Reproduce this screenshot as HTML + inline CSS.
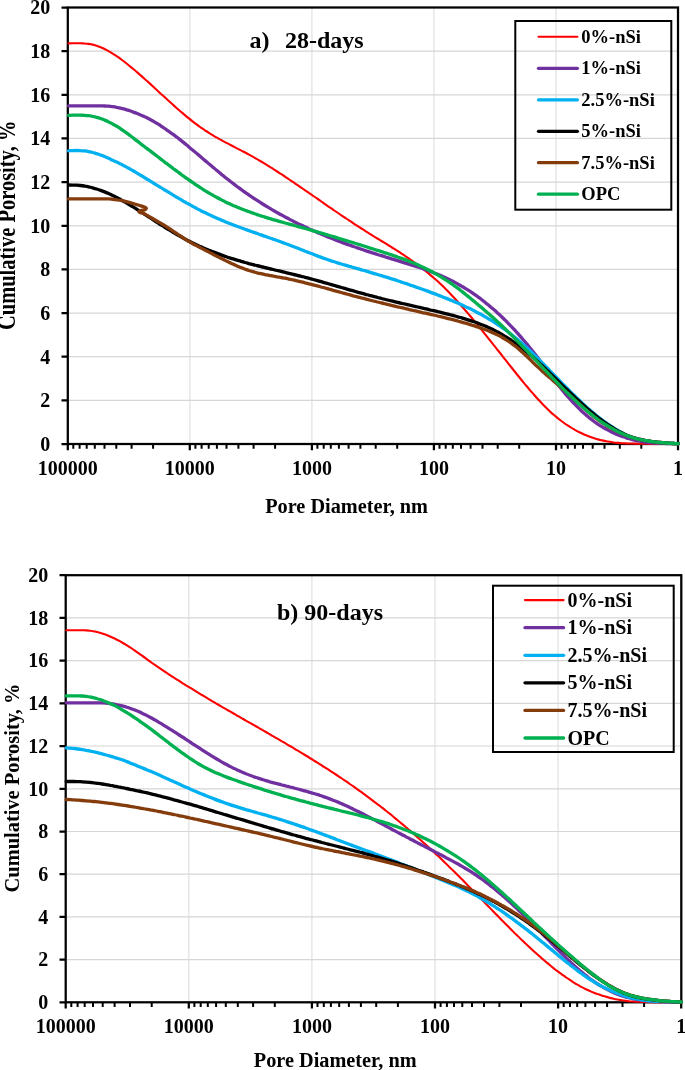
<!DOCTYPE html>
<html><head><meta charset="utf-8"><title>Cumulative porosity</title>
<style>
html,body{margin:0;padding:0;background:#fff}
svg{display:block;will-change:transform;opacity:.999}
text{font-family:"Liberation Serif",serif;font-weight:bold;fill:#000}
.t20{font-size:20px}.t24{font-size:24px}
</style></head><body>
<svg width="685" height="1070" viewBox="0 0 685 1070">
<rect width="685" height="1070" fill="#fff"/>
<g id="chart-a">
<path d="M189.8 7.5V444.0M311.9 7.5V444.0M433.9 7.5V444.0M556.0 7.5V444.0" stroke="#e8e8e8" stroke-width="1.6" fill="none"/>
<path d="M67.8 400.4H678.0M67.8 356.7H678.0M67.8 313.1H678.0M67.8 269.4H678.0M67.8 225.8H678.0M67.8 182.1H678.0M67.8 138.4H678.0M67.8 94.8H678.0M67.8 51.2H678.0" stroke="#d6d6d6" stroke-width="1.2" fill="none"/>
<rect x="67.8" y="7.5" width="610.2" height="436.5" fill="none" stroke="#000" stroke-width="2.25"/>
<path d="M61.5 444.0H67.8M61.5 400.4H67.8M61.5 356.7H67.8M61.5 313.1H67.8M61.5 269.4H67.8M61.5 225.8H67.8M61.5 182.1H67.8M61.5 138.4H67.8M61.5 94.8H67.8M61.5 51.2H67.8M61.5 7.5H67.8M67.8 444.0V450.3M189.8 444.0V450.3M311.9 444.0V450.3M433.9 444.0V450.3M556.0 444.0V450.3M678.0 444.0V450.3" stroke="#000" stroke-width="2.25" fill="none"/>
<path d="M153.1 444.0V448.7M131.6 444.0V448.7M116.3 444.0V448.7M104.5 444.0V448.7M94.8 444.0V448.7M86.7 444.0V448.7M79.6 444.0V448.7M73.3 444.0V448.7M275.1 444.0V448.7M253.6 444.0V448.7M238.4 444.0V448.7M226.5 444.0V448.7M216.9 444.0V448.7M208.7 444.0V448.7M201.6 444.0V448.7M195.4 444.0V448.7M397.2 444.0V448.7M375.7 444.0V448.7M360.4 444.0V448.7M348.6 444.0V448.7M338.9 444.0V448.7M330.8 444.0V448.7M323.7 444.0V448.7M317.4 444.0V448.7M519.2 444.0V448.7M497.7 444.0V448.7M482.5 444.0V448.7M470.6 444.0V448.7M461.0 444.0V448.7M452.8 444.0V448.7M445.7 444.0V448.7M439.5 444.0V448.7M641.3 444.0V448.7M619.8 444.0V448.7M604.5 444.0V448.7M592.7 444.0V448.7M583.0 444.0V448.7M574.9 444.0V448.7M567.8 444.0V448.7M561.5 444.0V448.7" stroke="#000" stroke-width="2" fill="none"/>
<path d="M68.5 43.4C69.2 43.4 71.2 43.4 72.5 43.3C73.9 43.3 75.2 43.3 76.5 43.3C77.9 43.3 79.2 43.3 80.5 43.3C81.9 43.4 83.2 43.4 84.5 43.5C85.9 43.6 87.2 43.7 88.6 43.9C89.9 44.1 91.2 44.3 92.6 44.6C93.9 45.0 95.2 45.3 96.6 45.7C97.9 46.2 99.3 46.7 100.6 47.2C101.9 47.7 103.3 48.4 104.6 49.0C106.0 49.7 107.3 50.4 108.6 51.2C110.0 52.0 111.3 52.8 112.6 53.6C114.0 54.5 115.3 55.3 116.7 56.2C118.0 57.1 119.3 58.1 120.7 59.0C122.0 60.0 123.3 61.0 124.7 62.0C126.0 63.0 127.4 64.1 128.7 65.2C130.0 66.3 131.4 67.4 132.7 68.5C134.0 69.6 135.4 70.7 136.7 71.9C138.1 73.0 139.4 74.2 140.7 75.4C142.1 76.6 143.4 77.8 144.7 79.0C146.1 80.2 147.4 81.4 148.8 82.6C150.1 83.9 151.4 85.1 152.8 86.3C154.1 87.5 155.4 88.8 156.8 90.0C158.1 91.2 159.5 92.4 160.8 93.7C162.1 94.9 163.5 96.1 164.8 97.3C166.1 98.6 167.5 99.8 168.8 101.0C170.2 102.2 171.5 103.4 172.8 104.6C174.2 105.8 175.5 107.0 176.8 108.2C178.2 109.4 179.5 110.5 180.9 111.7C182.2 112.8 183.5 114.0 184.9 115.1C186.2 116.2 187.5 117.3 188.9 118.4C190.2 119.5 191.5 120.6 192.9 121.6C194.2 122.6 195.6 123.7 196.9 124.6C198.2 125.6 199.6 126.6 200.9 127.6C202.2 128.5 203.6 129.4 204.9 130.3C206.3 131.2 207.6 132.0 208.9 132.9C210.3 133.7 211.6 134.5 213.0 135.3C214.3 136.1 215.6 136.9 217.0 137.7C218.3 138.4 219.6 139.2 221.0 139.9C222.3 140.7 223.7 141.4 225.0 142.1C226.3 142.8 227.7 143.5 229.0 144.2C230.3 144.9 231.7 145.6 233.0 146.3C234.4 147.0 235.7 147.7 237.0 148.4C238.4 149.1 239.7 149.7 241.0 150.4C242.4 151.1 243.7 151.8 245.1 152.5C246.4 153.2 247.7 153.9 249.1 154.7C250.4 155.4 251.7 156.1 253.1 156.9C254.4 157.6 255.7 158.4 257.1 159.2C258.4 159.9 259.8 160.7 261.1 161.5C262.4 162.3 263.8 163.1 265.1 163.9C266.4 164.7 267.8 165.6 269.1 166.4C270.5 167.2 271.8 168.1 273.1 168.9C274.5 169.8 275.8 170.7 277.1 171.5C278.5 172.4 279.8 173.3 281.2 174.2C282.5 175.0 283.8 175.9 285.2 176.8C286.5 177.7 287.9 178.6 289.2 179.5C290.5 180.4 291.9 181.3 293.2 182.2C294.5 183.1 295.9 184.0 297.2 184.9C298.5 185.8 299.9 186.7 301.2 187.7C302.6 188.6 303.9 189.5 305.2 190.4C306.6 191.3 307.9 192.3 309.2 193.2C310.6 194.1 311.9 195.0 313.3 196.0C314.6 196.9 315.9 197.8 317.3 198.7C318.6 199.7 320.0 200.6 321.3 201.5C322.6 202.4 324.0 203.4 325.3 204.3C326.6 205.2 328.0 206.1 329.3 207.1C330.6 208.0 332.0 208.9 333.3 209.8C334.7 210.7 336.0 211.6 337.3 212.5C338.7 213.5 340.0 214.4 341.4 215.3C342.7 216.2 344.0 217.1 345.4 218.0C346.7 218.9 348.0 219.8 349.4 220.7C350.7 221.5 352.0 222.4 353.4 223.3C354.7 224.2 356.1 225.1 357.4 225.9C358.7 226.8 360.1 227.7 361.4 228.5C362.8 229.4 364.1 230.2 365.4 231.1C366.8 231.9 368.1 232.7 369.4 233.6C370.8 234.4 372.1 235.2 373.4 236.1C374.8 236.9 376.1 237.7 377.5 238.5C378.8 239.3 380.1 240.2 381.5 241.0C382.8 241.8 384.2 242.6 385.5 243.4C386.8 244.3 388.2 245.1 389.5 245.9C390.8 246.8 392.2 247.6 393.5 248.4C394.9 249.3 396.2 250.1 397.5 251.0C398.9 251.9 400.2 252.7 401.5 253.6C402.9 254.5 404.2 255.4 405.6 256.3C406.9 257.2 408.2 258.1 409.6 259.0C410.9 259.9 412.2 260.9 413.6 261.8C414.9 262.8 416.2 263.8 417.6 264.8C418.9 265.8 420.3 266.8 421.6 267.8C422.9 268.9 424.3 269.9 425.6 271.0C426.9 272.1 428.3 273.2 429.6 274.3C431.0 275.4 432.3 276.5 433.6 277.7C435.0 278.9 436.3 280.1 437.7 281.3C439.0 282.5 440.3 283.8 441.7 285.1C443.0 286.4 444.3 287.7 445.7 289.0C447.0 290.3 448.4 291.7 449.7 293.1C451.0 294.5 452.4 295.9 453.7 297.3C455.0 298.8 456.4 300.2 457.7 301.7C459.1 303.2 460.4 304.7 461.7 306.2C463.1 307.7 464.4 309.2 465.7 310.8C467.1 312.3 468.4 313.9 469.8 315.5C471.1 317.1 472.4 318.7 473.8 320.3C475.1 321.9 476.4 323.5 477.8 325.2C479.1 326.8 480.5 328.4 481.8 330.1C483.1 331.8 484.5 333.4 485.8 335.1C487.1 336.8 488.5 338.4 489.8 340.1C491.1 341.8 492.5 343.5 493.8 345.2C495.2 346.9 496.5 348.6 497.8 350.3C499.2 351.9 500.5 353.6 501.9 355.3C503.2 357.0 504.5 358.7 505.9 360.4C507.2 362.1 508.5 363.8 509.9 365.5C511.2 367.2 512.6 368.9 513.9 370.5C515.2 372.2 516.6 373.9 517.9 375.5C519.2 377.2 520.6 378.8 521.9 380.5C523.2 382.1 524.6 383.7 525.9 385.3C527.3 386.9 528.6 388.5 529.9 390.1C531.3 391.6 532.6 393.2 534.0 394.7C535.3 396.2 536.6 397.7 538.0 399.2C539.3 400.6 540.6 402.1 542.0 403.5C543.3 404.9 544.6 406.2 546.0 407.6C547.3 408.9 548.7 410.2 550.0 411.4C551.3 412.7 552.7 413.9 554.0 415.0C555.4 416.2 556.7 417.3 558.0 418.4C559.4 419.5 560.7 420.5 562.0 421.5C563.4 422.5 564.7 423.5 566.0 424.4C567.4 425.3 568.7 426.2 570.1 427.0C571.4 427.9 572.7 428.7 574.1 429.4C575.4 430.2 576.8 430.9 578.1 431.6C579.4 432.3 580.8 432.9 582.1 433.5C583.4 434.2 584.8 434.7 586.1 435.3C587.5 435.8 588.8 436.4 590.1 436.8C591.5 437.3 592.8 437.8 594.1 438.2C595.5 438.6 596.8 439.0 598.1 439.4C599.5 439.7 600.8 440.1 602.2 440.4C603.5 440.7 604.8 441.0 606.2 441.2C607.5 441.5 608.9 441.7 610.2 441.9C611.5 442.1 612.9 442.3 614.2 442.5C615.5 442.6 616.9 442.8 618.2 442.9C619.5 443.0 620.9 443.1 622.2 443.2C623.6 443.3 624.9 443.3 626.2 443.4C627.6 443.4 628.9 443.5 630.2 443.5C631.6 443.5 632.9 443.6 634.3 443.6C635.6 443.6 636.9 443.7 638.3 443.7C639.6 443.7 641.0 443.7 642.3 443.7C643.6 443.8 645.0 443.8 646.3 443.8C647.6 443.8 649.0 443.8 650.3 443.9C651.6 443.9 653.0 443.9 654.3 443.9C655.7 443.9 657.0 443.9 658.3 443.9C659.7 443.9 661.0 443.9 662.4 443.9C663.7 444.0 665.0 444.0 666.4 444.0C667.7 444.0 669.0 444.0 670.4 444.0C671.7 444.0 673.1 444.0 674.4 444.0C675.7 444.0 677.7 444.0 678.4 444.0" fill="none" stroke="#ff0000" stroke-width="2.1" stroke-linecap="round" stroke-linejoin="round"/>
<path d="M68.5 105.8C69.2 105.8 71.2 105.8 72.5 105.8C73.9 105.8 75.2 105.8 76.5 105.8C77.9 105.8 79.2 105.8 80.5 105.8C81.9 105.8 83.2 105.8 84.5 105.8C85.9 105.8 87.2 105.8 88.6 105.8C89.9 105.8 91.2 105.8 92.6 105.8C93.9 105.8 95.2 105.8 96.6 105.8C97.9 105.9 99.3 105.9 100.6 105.9C101.9 105.9 103.3 106.0 104.6 106.0C106.0 106.1 107.3 106.1 108.6 106.2C110.0 106.3 111.3 106.5 112.6 106.7C114.0 106.9 115.3 107.1 116.7 107.4C118.0 107.6 119.3 107.9 120.7 108.2C122.0 108.5 123.3 108.9 124.7 109.2C126.0 109.6 127.4 110.0 128.7 110.4C130.0 110.8 131.4 111.3 132.7 111.8C134.0 112.2 135.4 112.8 136.7 113.3C138.1 113.8 139.4 114.4 140.7 115.0C142.1 115.6 143.4 116.2 144.7 116.8C146.1 117.4 147.4 118.1 148.8 118.8C150.1 119.5 151.4 120.2 152.8 120.9C154.1 121.7 155.4 122.5 156.8 123.3C158.1 124.1 159.5 124.9 160.8 125.8C162.1 126.7 163.5 127.5 164.8 128.5C166.1 129.4 167.5 130.3 168.8 131.3C170.2 132.2 171.5 133.2 172.8 134.2C174.2 135.2 175.5 136.2 176.8 137.2C178.2 138.2 179.5 139.3 180.9 140.4C182.2 141.4 183.5 142.5 184.9 143.6C186.2 144.7 187.5 145.7 188.9 146.9C190.2 148.0 191.5 149.1 192.9 150.2C194.2 151.3 195.6 152.4 196.9 153.6C198.2 154.7 199.6 155.8 200.9 157.0C202.2 158.1 203.6 159.3 204.9 160.4C206.3 161.5 207.6 162.7 208.9 163.8C210.3 164.9 211.6 166.1 213.0 167.2C214.3 168.3 215.6 169.5 217.0 170.6C218.3 171.7 219.6 172.8 221.0 173.9C222.3 175.0 223.7 176.1 225.0 177.2C226.3 178.2 227.7 179.3 229.0 180.3C230.3 181.4 231.7 182.4 233.0 183.4C234.4 184.5 235.7 185.5 237.0 186.5C238.4 187.5 239.7 188.4 241.0 189.4C242.4 190.4 243.7 191.3 245.1 192.3C246.4 193.2 247.7 194.1 249.1 195.1C250.4 196.0 251.7 196.9 253.1 197.8C254.4 198.7 255.7 199.5 257.1 200.4C258.4 201.3 259.8 202.1 261.1 203.0C262.4 203.8 263.8 204.7 265.1 205.5C266.4 206.3 267.8 207.1 269.1 207.9C270.5 208.7 271.8 209.5 273.1 210.3C274.5 211.0 275.8 211.8 277.1 212.6C278.5 213.3 279.8 214.1 281.2 214.8C282.5 215.5 283.8 216.3 285.2 217.0C286.5 217.7 287.9 218.4 289.2 219.1C290.5 219.8 291.9 220.5 293.2 221.2C294.5 221.8 295.9 222.5 297.2 223.2C298.5 223.8 299.9 224.5 301.2 225.1C302.6 225.8 303.9 226.4 305.2 227.0C306.6 227.7 307.9 228.3 309.2 228.9C310.6 229.5 311.9 230.1 313.3 230.7C314.6 231.3 315.9 231.9 317.3 232.4C318.6 233.0 320.0 233.6 321.3 234.2C322.6 234.7 324.0 235.3 325.3 235.8C326.6 236.4 328.0 236.9 329.3 237.5C330.6 238.0 332.0 238.5 333.3 239.0C334.7 239.6 336.0 240.1 337.3 240.6C338.7 241.1 340.0 241.6 341.4 242.1C342.7 242.6 344.0 243.1 345.4 243.6C346.7 244.1 348.0 244.6 349.4 245.0C350.7 245.5 352.0 246.0 353.4 246.5C354.7 246.9 356.1 247.4 357.4 247.9C358.7 248.3 360.1 248.8 361.4 249.2C362.8 249.7 364.1 250.1 365.4 250.6C366.8 251.0 368.1 251.4 369.4 251.9C370.8 252.3 372.1 252.7 373.4 253.2C374.8 253.6 376.1 254.0 377.5 254.5C378.8 254.9 380.1 255.3 381.5 255.7C382.8 256.1 384.2 256.5 385.5 257.0C386.8 257.4 388.2 257.8 389.5 258.2C390.8 258.6 392.2 259.0 393.5 259.4C394.9 259.8 396.2 260.2 397.5 260.6C398.9 261.0 400.2 261.4 401.5 261.8C402.9 262.2 404.2 262.6 405.6 263.1C406.9 263.5 408.2 263.9 409.6 264.3C410.9 264.7 412.2 265.1 413.6 265.6C414.9 266.0 416.2 266.4 417.6 266.9C418.9 267.3 420.3 267.8 421.6 268.2C422.9 268.7 424.3 269.2 425.6 269.7C426.9 270.1 428.3 270.6 429.6 271.1C431.0 271.6 432.3 272.1 433.6 272.7C435.0 273.2 436.3 273.7 437.7 274.3C439.0 274.9 440.3 275.4 441.7 276.0C443.0 276.6 444.3 277.2 445.7 277.8C447.0 278.4 448.4 279.1 449.7 279.7C451.0 280.4 452.4 281.1 453.7 281.8C455.0 282.5 456.4 283.2 457.7 283.9C459.1 284.6 460.4 285.4 461.7 286.2C463.1 287.0 464.4 287.8 465.7 288.6C467.1 289.4 468.4 290.3 469.8 291.2C471.1 292.0 472.4 292.9 473.8 293.9C475.1 294.8 476.4 295.8 477.8 296.7C479.1 297.7 480.5 298.7 481.8 299.7C483.1 300.8 484.5 301.8 485.8 302.9C487.1 304.0 488.5 305.1 489.8 306.2C491.1 307.3 492.5 308.5 493.8 309.6C495.2 310.8 496.5 312.0 497.8 313.3C499.2 314.5 500.5 315.7 501.9 317.0C503.2 318.3 504.5 319.6 505.9 320.9C507.2 322.3 508.5 323.6 509.9 325.0C511.2 326.4 512.6 327.8 513.9 329.2C515.2 330.7 516.6 332.2 517.9 333.6C519.2 335.1 520.6 336.7 521.9 338.2C523.2 339.7 524.6 341.3 525.9 342.9C527.3 344.5 528.6 346.1 529.9 347.8C531.3 349.4 532.6 351.1 534.0 352.8C535.3 354.5 536.6 356.3 538.0 358.0C539.3 359.8 540.6 361.6 542.0 363.3C543.3 365.1 544.6 366.9 546.0 368.7C547.3 370.5 548.7 372.3 550.0 374.1C551.3 375.9 552.7 377.7 554.0 379.4C555.4 381.2 556.7 382.9 558.0 384.6C559.4 386.4 560.7 388.1 562.0 389.7C563.4 391.4 564.7 393.0 566.0 394.6C567.4 396.1 568.7 397.7 570.1 399.2C571.4 400.7 572.7 402.1 574.1 403.5C575.4 404.9 576.8 406.3 578.1 407.6C579.4 408.9 580.8 410.2 582.1 411.5C583.4 412.7 584.8 413.9 586.1 415.1C587.5 416.2 588.8 417.3 590.1 418.4C591.5 419.5 592.8 420.5 594.1 421.5C595.5 422.5 596.8 423.4 598.1 424.3C599.5 425.2 600.8 426.1 602.2 426.9C603.5 427.7 604.8 428.5 606.2 429.2C607.5 430.0 608.9 430.7 610.2 431.3C611.5 432.0 612.9 432.6 614.2 433.2C615.5 433.8 616.9 434.4 618.2 434.9C619.5 435.5 620.9 436.0 622.2 436.4C623.6 436.9 624.9 437.4 626.2 437.8C627.6 438.2 628.9 438.6 630.2 439.0C631.6 439.4 632.9 439.7 634.3 440.1C635.6 440.4 636.9 440.7 638.3 441.0C639.6 441.3 641.0 441.5 642.3 441.7C643.6 442.0 645.0 442.1 646.3 442.3C647.6 442.4 649.0 442.6 650.3 442.7C651.6 442.8 653.0 442.9 654.3 443.0C655.7 443.1 657.0 443.1 658.3 443.2C659.7 443.3 661.0 443.3 662.4 443.4C663.7 443.4 665.0 443.5 666.4 443.5C667.7 443.6 669.0 443.6 670.4 443.7C671.7 443.7 673.1 443.7 674.4 443.7C675.7 443.8 677.7 443.8 678.4 443.8" fill="none" stroke="#7030a0" stroke-width="3.3" stroke-linecap="round" stroke-linejoin="round"/>
<path d="M68.5 150.8C69.2 150.8 71.2 150.6 72.5 150.6C73.9 150.5 75.2 150.5 76.5 150.5C77.9 150.5 79.2 150.5 80.5 150.6C81.9 150.6 83.2 150.8 84.5 150.9C85.9 151.1 87.2 151.3 88.6 151.6C89.9 151.9 91.2 152.1 92.6 152.5C93.9 152.8 95.2 153.2 96.6 153.6C97.9 154.0 99.3 154.5 100.6 155.0C101.9 155.5 103.3 156.0 104.6 156.6C106.0 157.2 107.3 157.7 108.6 158.3C110.0 158.9 111.3 159.6 112.6 160.2C114.0 160.8 115.3 161.5 116.7 162.1C118.0 162.7 119.3 163.4 120.7 164.1C122.0 164.7 123.3 165.4 124.7 166.1C126.0 166.8 127.4 167.5 128.7 168.3C130.0 169.0 131.4 169.8 132.7 170.5C134.0 171.3 135.4 172.1 136.7 172.9C138.1 173.7 139.4 174.5 140.7 175.3C142.1 176.1 143.4 176.9 144.7 177.7C146.1 178.5 147.4 179.3 148.8 180.2C150.1 181.0 151.4 181.8 152.8 182.6C154.1 183.4 155.4 184.3 156.8 185.1C158.1 185.9 159.5 186.7 160.8 187.5C162.1 188.4 163.5 189.2 164.8 190.0C166.1 190.8 167.5 191.6 168.8 192.4C170.2 193.3 171.5 194.1 172.8 194.9C174.2 195.7 175.5 196.5 176.8 197.3C178.2 198.1 179.5 198.9 180.9 199.6C182.2 200.4 183.5 201.2 184.9 202.0C186.2 202.7 187.5 203.5 188.9 204.2C190.2 205.0 191.5 205.7 192.9 206.4C194.2 207.2 195.6 207.9 196.9 208.6C198.2 209.3 199.6 210.0 200.9 210.7C202.2 211.3 203.6 212.0 204.9 212.6C206.3 213.3 207.6 213.9 208.9 214.6C210.3 215.2 211.6 215.8 213.0 216.4C214.3 217.0 215.6 217.6 217.0 218.2C218.3 218.8 219.6 219.3 221.0 219.9C222.3 220.5 223.7 221.0 225.0 221.6C226.3 222.1 227.7 222.6 229.0 223.2C230.3 223.7 231.7 224.2 233.0 224.7C234.4 225.3 235.7 225.8 237.0 226.3C238.4 226.8 239.7 227.3 241.0 227.8C242.4 228.3 243.7 228.7 245.1 229.2C246.4 229.7 247.7 230.2 249.1 230.7C250.4 231.1 251.7 231.6 253.1 232.1C254.4 232.6 255.7 233.0 257.1 233.5C258.4 234.0 259.8 234.4 261.1 234.9C262.4 235.4 263.8 235.8 265.1 236.3C266.4 236.8 267.8 237.2 269.1 237.7C270.5 238.2 271.8 238.6 273.1 239.1C274.5 239.6 275.8 240.1 277.1 240.5C278.5 241.0 279.8 241.5 281.2 242.0C282.5 242.5 283.8 243.0 285.2 243.5C286.5 243.9 287.9 244.4 289.2 245.0C290.5 245.5 291.9 246.0 293.2 246.5C294.5 247.0 295.9 247.5 297.2 248.0C298.5 248.6 299.9 249.1 301.2 249.6C302.6 250.1 303.9 250.7 305.2 251.2C306.6 251.7 307.9 252.3 309.2 252.8C310.6 253.3 311.9 253.8 313.3 254.3C314.6 254.8 315.9 255.4 317.3 255.9C318.6 256.4 320.0 256.9 321.3 257.4C322.6 257.9 324.0 258.3 325.3 258.8C326.6 259.3 328.0 259.7 329.3 260.2C330.6 260.6 332.0 261.1 333.3 261.5C334.7 261.9 336.0 262.4 337.3 262.8C338.7 263.2 340.0 263.6 341.4 264.0C342.7 264.4 344.0 264.8 345.4 265.2C346.7 265.6 348.0 266.0 349.4 266.4C350.7 266.7 352.0 267.1 353.4 267.5C354.7 267.9 356.1 268.3 357.4 268.6C358.7 269.0 360.1 269.4 361.4 269.8C362.8 270.2 364.1 270.5 365.4 270.9C366.8 271.3 368.1 271.7 369.4 272.1C370.8 272.5 372.1 272.9 373.4 273.3C374.8 273.7 376.1 274.1 377.5 274.5C378.8 274.9 380.1 275.3 381.5 275.7C382.8 276.1 384.2 276.5 385.5 276.9C386.8 277.3 388.2 277.7 389.5 278.2C390.8 278.6 392.2 279.0 393.5 279.4C394.9 279.9 396.2 280.3 397.5 280.7C398.9 281.2 400.2 281.6 401.5 282.1C402.9 282.5 404.2 283.0 405.6 283.4C406.9 283.9 408.2 284.3 409.6 284.8C410.9 285.2 412.2 285.7 413.6 286.2C414.9 286.6 416.2 287.1 417.6 287.6C418.9 288.0 420.3 288.5 421.6 289.0C422.9 289.5 424.3 290.0 425.6 290.4C426.9 290.9 428.3 291.4 429.6 291.9C431.0 292.4 432.3 292.9 433.6 293.4C435.0 293.9 436.3 294.4 437.7 295.0C439.0 295.5 440.3 296.0 441.7 296.5C443.0 297.0 444.3 297.6 445.7 298.1C447.0 298.6 448.4 299.2 449.7 299.7C451.0 300.3 452.4 300.8 453.7 301.4C455.0 301.9 456.4 302.5 457.7 303.1C459.1 303.7 460.4 304.2 461.7 304.8C463.1 305.4 464.4 306.1 465.7 306.7C467.1 307.3 468.4 307.9 469.8 308.6C471.1 309.2 472.4 309.9 473.8 310.6C475.1 311.3 476.4 311.9 477.8 312.7C479.1 313.4 480.5 314.1 481.8 314.8C483.1 315.6 484.5 316.3 485.8 317.1C487.1 317.9 488.5 318.7 489.8 319.5C491.1 320.3 492.5 321.1 493.8 322.0C495.2 322.8 496.5 323.7 497.8 324.6C499.2 325.5 500.5 326.4 501.9 327.4C503.2 328.3 504.5 329.3 505.9 330.2C507.2 331.2 508.5 332.2 509.9 333.3C511.2 334.3 512.6 335.4 513.9 336.5C515.2 337.6 516.6 338.7 517.9 339.8C519.2 341.0 520.6 342.2 521.9 343.3C523.2 344.5 524.6 345.8 525.9 347.0C527.3 348.2 528.6 349.5 529.9 350.7C531.3 352.0 532.6 353.3 534.0 354.6C535.3 355.9 536.6 357.2 538.0 358.6C539.3 359.9 540.6 361.2 542.0 362.6C543.3 363.9 544.6 365.3 546.0 366.6C547.3 368.0 548.7 369.4 550.0 370.8C551.3 372.1 552.7 373.5 554.0 374.9C555.4 376.3 556.7 377.6 558.0 379.0C559.4 380.4 560.7 381.8 562.0 383.1C563.4 384.5 564.7 385.9 566.0 387.2C567.4 388.6 568.7 389.9 570.1 391.3C571.4 392.6 572.7 393.9 574.1 395.2C575.4 396.6 576.8 397.9 578.1 399.1C579.4 400.4 580.8 401.7 582.1 403.0C583.4 404.2 584.8 405.4 586.1 406.7C587.5 407.9 588.8 409.1 590.1 410.2C591.5 411.4 592.8 412.5 594.1 413.6C595.5 414.8 596.8 415.8 598.1 416.9C599.5 418.0 600.8 419.0 602.2 420.0C603.5 421.0 604.8 421.9 606.2 422.9C607.5 423.8 608.9 424.7 610.2 425.6C611.5 426.5 612.9 427.4 614.2 428.3C615.5 429.1 616.9 429.9 618.2 430.7C619.5 431.5 620.9 432.2 622.2 432.9C623.6 433.6 624.9 434.3 626.2 434.9C627.6 435.5 628.9 436.0 630.2 436.5C631.6 437.0 632.9 437.5 634.3 437.9C635.6 438.3 636.9 438.6 638.3 439.0C639.6 439.3 641.0 439.6 642.3 439.9C643.6 440.2 645.0 440.5 646.3 440.7C647.6 440.9 649.0 441.1 650.3 441.3C651.6 441.5 653.0 441.7 654.3 441.9C655.7 442.0 657.0 442.2 658.3 442.3C659.7 442.5 661.0 442.6 662.4 442.7C663.7 442.8 665.0 442.9 666.4 443.0C667.7 443.1 669.0 443.2 670.4 443.2C671.7 443.3 673.1 443.4 674.4 443.4C675.7 443.5 677.7 443.6 678.4 443.6" fill="none" stroke="#00b0f0" stroke-width="3.3" stroke-linecap="round" stroke-linejoin="round"/>
<path d="M68.5 185.0C69.2 185.0 71.2 185.0 72.5 185.1C73.9 185.1 75.2 185.1 76.5 185.2C77.9 185.3 79.2 185.4 80.5 185.5C81.9 185.6 83.2 185.8 84.5 186.0C85.9 186.3 87.2 186.5 88.6 186.8C89.9 187.1 91.2 187.5 92.6 187.8C93.9 188.2 95.2 188.6 96.6 189.0C97.9 189.4 99.3 189.9 100.6 190.4C101.9 190.9 103.3 191.4 104.6 191.9C106.0 192.4 107.3 193.0 108.6 193.6C110.0 194.2 111.3 194.8 112.6 195.5C114.0 196.1 115.3 196.8 116.7 197.5C118.0 198.2 119.3 198.9 120.7 199.6C122.0 200.4 123.3 201.1 124.7 201.9C126.0 202.7 127.4 203.5 128.7 204.3C130.0 205.1 131.4 205.9 132.7 206.7C134.0 207.5 135.4 208.3 136.7 209.2C138.1 210.0 139.4 210.9 140.7 211.7C142.1 212.6 143.4 213.5 144.7 214.4C146.1 215.3 147.4 216.1 148.8 217.0C150.1 217.9 151.4 218.8 152.8 219.6C154.1 220.5 155.4 221.3 156.8 222.2C158.1 223.1 159.5 223.9 160.8 224.8C162.1 225.6 163.5 226.4 164.8 227.3C166.1 228.1 167.5 228.9 168.8 229.7C170.2 230.6 171.5 231.4 172.8 232.2C174.2 233.0 175.5 233.7 176.8 234.5C178.2 235.3 179.5 236.0 180.9 236.8C182.2 237.5 183.5 238.2 184.9 239.0C186.2 239.7 187.5 240.4 188.9 241.0C190.2 241.7 191.5 242.4 192.9 243.1C194.2 243.7 195.6 244.4 196.9 245.0C198.2 245.6 199.6 246.2 200.9 246.8C202.2 247.4 203.6 248.0 204.9 248.6C206.3 249.2 207.6 249.7 208.9 250.3C210.3 250.8 211.6 251.4 213.0 251.9C214.3 252.4 215.6 252.9 217.0 253.4C218.3 253.9 219.6 254.4 221.0 254.9C222.3 255.4 223.7 255.9 225.0 256.3C226.3 256.8 227.7 257.2 229.0 257.7C230.3 258.1 231.7 258.5 233.0 258.9C234.4 259.3 235.7 259.8 237.0 260.2C238.4 260.6 239.7 260.9 241.0 261.3C242.4 261.7 243.7 262.1 245.1 262.5C246.4 262.8 247.7 263.2 249.1 263.6C250.4 263.9 251.7 264.3 253.1 264.6C254.4 265.0 255.7 265.3 257.1 265.6C258.4 266.0 259.8 266.3 261.1 266.6C262.4 267.0 263.8 267.3 265.1 267.6C266.4 268.0 267.8 268.3 269.1 268.6C270.5 268.9 271.8 269.2 273.1 269.5C274.5 269.9 275.8 270.2 277.1 270.5C278.5 270.8 279.8 271.1 281.2 271.4C282.5 271.8 283.8 272.1 285.2 272.4C286.5 272.7 287.9 273.0 289.2 273.4C290.5 273.7 291.9 274.0 293.2 274.3C294.5 274.7 295.9 275.0 297.2 275.3C298.5 275.7 299.9 276.0 301.2 276.3C302.6 276.7 303.9 277.0 305.2 277.4C306.6 277.7 307.9 278.1 309.2 278.4C310.6 278.8 311.9 279.2 313.3 279.5C314.6 279.9 315.9 280.2 317.3 280.6C318.6 281.0 320.0 281.4 321.3 281.7C322.6 282.1 324.0 282.5 325.3 282.9C326.6 283.2 328.0 283.6 329.3 284.0C330.6 284.4 332.0 284.8 333.3 285.2C334.7 285.5 336.0 285.9 337.3 286.3C338.7 286.7 340.0 287.1 341.4 287.5C342.7 287.9 344.0 288.2 345.4 288.6C346.7 289.0 348.0 289.4 349.4 289.8C350.7 290.2 352.0 290.5 353.4 290.9C354.7 291.3 356.1 291.7 357.4 292.1C358.7 292.4 360.1 292.8 361.4 293.2C362.8 293.6 364.1 293.9 365.4 294.3C366.8 294.7 368.1 295.0 369.4 295.4C370.8 295.7 372.1 296.1 373.4 296.4C374.8 296.8 376.1 297.1 377.5 297.5C378.8 297.8 380.1 298.2 381.5 298.5C382.8 298.8 384.2 299.2 385.5 299.5C386.8 299.8 388.2 300.2 389.5 300.5C390.8 300.8 392.2 301.1 393.5 301.4C394.9 301.8 396.2 302.1 397.5 302.4C398.9 302.7 400.2 303.0 401.5 303.3C402.9 303.6 404.2 303.9 405.6 304.2C406.9 304.5 408.2 304.9 409.6 305.2C410.9 305.5 412.2 305.8 413.6 306.1C414.9 306.4 416.2 306.7 417.6 307.0C418.9 307.3 420.3 307.6 421.6 307.9C422.9 308.2 424.3 308.5 425.6 308.8C426.9 309.1 428.3 309.4 429.6 309.8C431.0 310.1 432.3 310.4 433.6 310.7C435.0 311.0 436.3 311.3 437.7 311.7C439.0 312.0 440.3 312.3 441.7 312.6C443.0 313.0 444.3 313.3 445.7 313.6C447.0 314.0 448.4 314.3 449.7 314.7C451.0 315.0 452.4 315.4 453.7 315.7C455.0 316.1 456.4 316.4 457.7 316.8C459.1 317.2 460.4 317.5 461.7 317.9C463.1 318.3 464.4 318.7 465.7 319.1C467.1 319.5 468.4 319.9 469.8 320.4C471.1 320.8 472.4 321.2 473.8 321.7C475.1 322.2 476.4 322.6 477.8 323.1C479.1 323.6 480.5 324.1 481.8 324.7C483.1 325.2 484.5 325.7 485.8 326.3C487.1 326.9 488.5 327.5 489.8 328.1C491.1 328.7 492.5 329.4 493.8 330.0C495.2 330.7 496.5 331.4 497.8 332.1C499.2 332.8 500.5 333.6 501.9 334.3C503.2 335.1 504.5 335.9 505.9 336.8C507.2 337.6 508.5 338.5 509.9 339.4C511.2 340.3 512.6 341.2 513.9 342.1C515.2 343.1 516.6 344.1 517.9 345.1C519.2 346.1 520.6 347.1 521.9 348.1C523.2 349.2 524.6 350.3 525.9 351.4C527.3 352.5 528.6 353.6 529.9 354.7C531.3 355.9 532.6 357.1 534.0 358.2C535.3 359.4 536.6 360.6 538.0 361.8C539.3 363.1 540.6 364.3 542.0 365.5C543.3 366.8 544.6 368.1 546.0 369.3C547.3 370.6 548.7 371.9 550.0 373.2C551.3 374.4 552.7 375.7 554.0 377.0C555.4 378.3 556.7 379.6 558.0 380.9C559.4 382.2 560.7 383.5 562.0 384.9C563.4 386.2 564.7 387.5 566.0 388.8C567.4 390.0 568.7 391.3 570.1 392.6C571.4 393.9 572.7 395.2 574.1 396.5C575.4 397.7 576.8 399.0 578.1 400.2C579.4 401.5 580.8 402.7 582.1 403.9C583.4 405.1 584.8 406.3 586.1 407.5C587.5 408.7 588.8 409.9 590.1 411.0C591.5 412.1 592.8 413.3 594.1 414.3C595.5 415.4 596.8 416.5 598.1 417.6C599.5 418.6 600.8 419.6 602.2 420.6C603.5 421.6 604.8 422.6 606.2 423.5C607.5 424.4 608.9 425.3 610.2 426.2C611.5 427.0 612.9 427.9 614.2 428.7C615.5 429.5 616.9 430.2 618.2 431.0C619.5 431.7 620.9 432.4 622.2 433.1C623.6 433.7 624.9 434.4 626.2 434.9C627.6 435.5 628.9 436.0 630.2 436.5C631.6 437.0 632.9 437.5 634.3 437.9C635.6 438.3 636.9 438.6 638.3 439.0C639.6 439.3 641.0 439.6 642.3 439.9C643.6 440.1 645.0 440.4 646.3 440.6C647.6 440.8 649.0 441.1 650.3 441.3C651.6 441.5 653.0 441.7 654.3 441.8C655.7 442.0 657.0 442.2 658.3 442.3C659.7 442.4 661.0 442.6 662.4 442.7C663.7 442.8 665.0 442.9 666.4 443.0C667.7 443.1 669.0 443.2 670.4 443.3C671.7 443.3 673.1 443.4 674.4 443.5C675.7 443.5 677.7 443.6 678.4 443.6" fill="none" stroke="#000000" stroke-width="3.3" stroke-linecap="round" stroke-linejoin="round"/>
<path d="M68.5 198.9C72.1 198.9 83.3 198.9 90.0 198.9C96.7 198.9 104.6 198.8 108.8 198.9C113.0 199.0 112.6 199.3 115.0 199.6C117.4 199.9 120.8 200.4 123.4 200.9C126.0 201.4 128.3 202.1 130.7 202.8C133.1 203.5 136.8 204.6 138.0 205.0 M130.7 202.8C131.9 203.2 135.8 204.3 138.0 205.0C140.2 205.7 142.4 206.3 143.8 206.8C145.2 207.3 146.0 207.7 146.2 208.2C146.4 208.7 145.9 209.3 145.0 209.7C144.1 210.1 141.5 210.3 140.5 210.7C139.5 211.0 138.8 211.5 138.8 211.8C138.8 212.1 139.7 212.3 140.5 212.6C141.3 212.9 141.8 212.5 143.8 213.5C145.8 214.5 149.1 216.5 152.6 218.5C156.1 220.5 162.9 224.5 165.0 225.7 M152.6 218.5C153.3 218.9 155.3 220.1 156.6 220.9C158.0 221.6 159.3 222.3 160.6 223.1C162.0 223.9 163.3 224.7 164.6 225.5C166.0 226.4 167.3 227.2 168.7 228.1C170.0 229.0 171.3 229.9 172.7 230.8C174.0 231.7 175.3 232.6 176.7 233.5C178.0 234.4 179.4 235.3 180.7 236.2C182.0 237.1 183.4 238.0 184.7 238.9C186.0 239.8 187.4 240.6 188.7 241.4C190.1 242.2 191.4 243.0 192.7 243.7C194.1 244.5 195.4 245.1 196.8 245.8C198.1 246.5 199.4 247.2 200.8 247.9C202.1 248.6 203.4 249.3 204.8 250.0C206.1 250.7 207.5 251.4 208.8 252.1C210.1 252.8 211.5 253.5 212.8 254.2C214.1 254.9 215.5 255.6 216.8 256.2C218.2 256.9 219.5 257.6 220.8 258.3C222.2 258.9 223.5 259.6 224.8 260.3C226.2 260.9 227.5 261.6 228.9 262.2C230.2 262.8 231.5 263.5 232.9 264.1C234.2 264.7 235.6 265.3 236.9 265.9C238.2 266.5 239.6 267.0 240.9 267.5C242.2 268.1 243.6 268.6 244.9 269.1C246.3 269.6 247.6 270.0 248.9 270.5C250.3 270.9 251.6 271.3 252.9 271.7C254.3 272.1 255.6 272.4 257.0 272.8C258.3 273.1 259.6 273.4 261.0 273.7C262.3 274.0 263.6 274.3 265.0 274.6C266.3 274.8 267.7 275.1 269.0 275.3C270.3 275.6 271.7 275.8 273.0 276.0C274.4 276.3 275.7 276.5 277.0 276.8C278.4 277.0 279.7 277.2 281.0 277.5C282.4 277.7 283.7 278.0 285.1 278.2C286.4 278.5 287.7 278.8 289.1 279.1C290.4 279.3 291.7 279.6 293.1 279.9C294.4 280.2 295.8 280.5 297.1 280.8C298.4 281.1 299.8 281.5 301.1 281.8C302.4 282.1 303.8 282.4 305.1 282.8C306.5 283.1 307.8 283.4 309.1 283.8C310.5 284.1 311.8 284.5 313.1 284.8C314.5 285.2 315.8 285.5 317.2 285.9C318.5 286.2 319.8 286.6 321.2 287.0C322.5 287.3 323.9 287.7 325.2 288.0C326.5 288.4 327.9 288.8 329.2 289.2C330.5 289.5 331.9 289.9 333.2 290.3C334.6 290.6 335.9 291.0 337.2 291.4C338.6 291.7 339.9 292.1 341.2 292.5C342.6 292.9 343.9 293.2 345.3 293.6C346.6 294.0 347.9 294.3 349.3 294.7C350.6 295.1 351.9 295.4 353.3 295.8C354.6 296.1 356.0 296.5 357.3 296.8C358.6 297.2 360.0 297.5 361.3 297.9C362.7 298.2 364.0 298.6 365.3 298.9C366.7 299.3 368.0 299.6 369.3 300.0C370.7 300.3 372.0 300.6 373.4 301.0C374.7 301.3 376.0 301.6 377.4 302.0C378.7 302.3 380.0 302.6 381.4 302.9C382.7 303.3 384.1 303.6 385.4 303.9C386.7 304.2 388.1 304.6 389.4 304.9C390.7 305.2 392.1 305.5 393.4 305.8C394.8 306.1 396.1 306.5 397.4 306.8C398.8 307.1 400.1 307.4 401.5 307.7C402.8 308.0 404.1 308.3 405.5 308.6C406.8 308.9 408.1 309.2 409.5 309.6C410.8 309.9 412.2 310.2 413.5 310.5C414.8 310.8 416.2 311.1 417.5 311.4C418.8 311.7 420.2 312.0 421.5 312.3C422.9 312.6 424.2 312.9 425.5 313.2C426.9 313.5 428.2 313.8 429.5 314.1C430.9 314.4 432.2 314.7 433.6 315.0C434.9 315.3 436.2 315.6 437.6 316.0C438.9 316.3 440.3 316.6 441.6 316.9C442.9 317.2 444.3 317.6 445.6 317.9C446.9 318.2 448.3 318.5 449.6 318.9C451.0 319.2 452.3 319.6 453.6 319.9C455.0 320.3 456.3 320.6 457.6 321.0C459.0 321.4 460.3 321.7 461.7 322.1C463.0 322.5 464.3 322.9 465.7 323.2C467.0 323.6 468.3 324.0 469.7 324.4C471.0 324.9 472.4 325.3 473.7 325.7C475.0 326.1 476.4 326.6 477.7 327.0C479.1 327.5 480.4 327.9 481.7 328.4C483.1 328.9 484.4 329.3 485.7 329.8C487.1 330.4 488.4 330.9 489.8 331.4C491.1 332.0 492.4 332.6 493.8 333.2C495.1 333.8 496.4 334.4 497.8 335.1C499.1 335.7 500.5 336.4 501.8 337.2C503.1 337.9 504.5 338.7 505.8 339.6C507.1 340.4 508.5 341.3 509.8 342.2C511.2 343.1 512.5 344.1 513.8 345.1C515.2 346.1 516.5 347.2 517.9 348.3C519.2 349.5 520.5 350.7 521.9 351.9C523.2 353.1 524.5 354.3 525.9 355.6C527.2 356.8 528.6 358.1 529.9 359.4C531.2 360.7 532.6 362.0 533.9 363.3C535.2 364.6 536.6 365.9 537.9 367.1C539.3 368.4 540.6 369.6 541.9 370.9C543.3 372.1 544.6 373.3 545.9 374.4C547.3 375.6 548.6 376.8 550.0 377.9C551.3 379.1 552.6 380.2 554.0 381.4C555.3 382.5 556.6 383.6 558.0 384.8C559.3 385.9 560.7 387.1 562.0 388.2C563.3 389.4 564.7 390.6 566.0 391.8C567.4 393.0 568.7 394.2 570.0 395.4C571.4 396.6 572.7 397.9 574.0 399.1C575.4 400.3 576.7 401.6 578.1 402.8C579.4 404.0 580.7 405.3 582.1 406.5C583.4 407.7 584.7 408.9 586.1 410.1C587.4 411.2 588.8 412.4 590.1 413.5C591.4 414.7 592.8 415.8 594.1 416.8C595.4 417.9 596.8 418.9 598.1 419.9C599.5 420.9 600.8 421.8 602.1 422.7C603.5 423.6 604.8 424.5 606.2 425.3C607.5 426.2 608.8 426.9 610.2 427.7C611.5 428.5 612.8 429.2 614.2 429.9C615.5 430.6 616.9 431.2 618.2 431.9C619.5 432.5 620.9 433.1 622.2 433.7C623.5 434.3 624.9 434.8 626.2 435.4C627.6 435.9 628.9 436.4 630.2 436.8C631.6 437.3 632.9 437.7 634.2 438.1C635.6 438.5 636.9 438.8 638.3 439.1C639.6 439.4 640.9 439.7 642.3 439.9C643.6 440.2 645.0 440.4 646.3 440.7C647.6 440.9 649.0 441.1 650.3 441.3C651.6 441.5 653.0 441.7 654.3 441.9C655.7 442.0 657.0 442.2 658.3 442.3C659.7 442.4 661.0 442.6 662.3 442.7C663.7 442.8 665.0 442.9 666.4 443.0C667.7 443.1 669.0 443.2 670.4 443.3C671.7 443.3 673.0 443.4 674.4 443.5C675.7 443.5 677.7 443.6 678.4 443.6" fill="none" stroke="#843c0c" stroke-width="3.3" stroke-linecap="round" stroke-linejoin="round"/>
<path d="M68.5 115.3C69.2 115.3 71.2 115.3 72.5 115.2C73.9 115.2 75.2 115.2 76.5 115.2C77.9 115.2 79.2 115.2 80.5 115.2C81.9 115.2 83.2 115.3 84.5 115.3C85.9 115.4 87.2 115.5 88.6 115.7C89.9 115.9 91.2 116.1 92.6 116.4C93.9 116.6 95.2 116.9 96.6 117.3C97.9 117.7 99.3 118.1 100.6 118.5C101.9 119.0 103.3 119.5 104.6 120.1C106.0 120.6 107.3 121.2 108.6 121.9C110.0 122.5 111.3 123.2 112.6 123.9C114.0 124.6 115.3 125.4 116.7 126.2C118.0 127.1 119.3 128.0 120.7 128.8C122.0 129.7 123.3 130.7 124.7 131.6C126.0 132.5 127.4 133.5 128.7 134.5C130.0 135.5 131.4 136.5 132.7 137.5C134.0 138.6 135.4 139.6 136.7 140.7C138.1 141.7 139.4 142.7 140.7 143.8C142.1 144.8 143.4 145.8 144.7 146.8C146.1 147.8 147.4 148.8 148.8 149.8C150.1 150.8 151.4 151.9 152.8 152.9C154.1 153.9 155.4 154.9 156.8 156.0C158.1 157.0 159.5 158.1 160.8 159.1C162.1 160.1 163.5 161.1 164.8 162.2C166.1 163.2 167.5 164.2 168.8 165.2C170.2 166.2 171.5 167.2 172.8 168.2C174.2 169.3 175.5 170.2 176.8 171.2C178.2 172.2 179.5 173.2 180.9 174.2C182.2 175.2 183.5 176.1 184.9 177.1C186.2 178.0 187.5 179.0 188.9 179.9C190.2 180.9 191.5 181.8 192.9 182.7C194.2 183.6 195.6 184.5 196.9 185.4C198.2 186.3 199.6 187.2 200.9 188.0C202.2 188.9 203.6 189.7 204.9 190.6C206.3 191.4 207.6 192.2 208.9 193.0C210.3 193.8 211.6 194.6 213.0 195.3C214.3 196.1 215.6 196.8 217.0 197.5C218.3 198.3 219.6 199.0 221.0 199.6C222.3 200.3 223.7 201.0 225.0 201.7C226.3 202.3 227.7 202.9 229.0 203.6C230.3 204.2 231.7 204.8 233.0 205.4C234.4 206.0 235.7 206.5 237.0 207.1C238.4 207.6 239.7 208.2 241.0 208.7C242.4 209.3 243.7 209.8 245.1 210.3C246.4 210.8 247.7 211.3 249.1 211.8C250.4 212.3 251.7 212.7 253.1 213.2C254.4 213.7 255.7 214.1 257.1 214.6C258.4 215.0 259.8 215.5 261.1 215.9C262.4 216.3 263.8 216.7 265.1 217.1C266.4 217.6 267.8 218.0 269.1 218.4C270.5 218.8 271.8 219.2 273.1 219.6C274.5 220.0 275.8 220.3 277.1 220.7C278.5 221.1 279.8 221.5 281.2 221.9C282.5 222.2 283.8 222.6 285.2 223.0C286.5 223.3 287.9 223.7 289.2 224.1C290.5 224.5 291.9 224.8 293.2 225.2C294.5 225.6 295.9 225.9 297.2 226.3C298.5 226.7 299.9 227.0 301.2 227.4C302.6 227.8 303.9 228.1 305.2 228.5C306.6 228.9 307.9 229.3 309.2 229.6C310.6 230.0 311.9 230.4 313.3 230.8C314.6 231.2 315.9 231.5 317.3 231.9C318.6 232.3 320.0 232.7 321.3 233.1C322.6 233.5 324.0 233.9 325.3 234.3C326.6 234.7 328.0 235.1 329.3 235.5C330.6 235.8 332.0 236.2 333.3 236.6C334.7 237.0 336.0 237.4 337.3 237.8C338.7 238.3 340.0 238.7 341.4 239.1C342.7 239.5 344.0 239.9 345.4 240.3C346.7 240.7 348.0 241.1 349.4 241.5C350.7 241.9 352.0 242.3 353.4 242.7C354.7 243.2 356.1 243.6 357.4 244.0C358.7 244.4 360.1 244.8 361.4 245.2C362.8 245.7 364.1 246.1 365.4 246.5C366.8 246.9 368.1 247.4 369.4 247.8C370.8 248.2 372.1 248.6 373.4 249.0C374.8 249.5 376.1 249.9 377.5 250.3C378.8 250.8 380.1 251.2 381.5 251.6C382.8 252.0 384.2 252.5 385.5 252.9C386.8 253.4 388.2 253.8 389.5 254.2C390.8 254.7 392.2 255.1 393.5 255.6C394.9 256.1 396.2 256.5 397.5 257.0C398.9 257.5 400.2 257.9 401.5 258.4C402.9 258.9 404.2 259.4 405.6 259.9C406.9 260.4 408.2 261.0 409.6 261.5C410.9 262.0 412.2 262.6 413.6 263.1C414.9 263.7 416.2 264.3 417.6 264.8C418.9 265.4 420.3 266.0 421.6 266.6C422.9 267.3 424.3 267.9 425.6 268.5C426.9 269.2 428.3 269.9 429.6 270.6C431.0 271.2 432.3 271.9 433.6 272.7C435.0 273.4 436.3 274.1 437.7 274.9C439.0 275.7 440.3 276.5 441.7 277.3C443.0 278.1 444.3 278.9 445.7 279.8C447.0 280.7 448.4 281.5 449.7 282.4C451.0 283.4 452.4 284.3 453.7 285.3C455.0 286.2 456.4 287.2 457.7 288.2C459.1 289.2 460.4 290.3 461.7 291.3C463.1 292.4 464.4 293.4 465.7 294.5C467.1 295.6 468.4 296.7 469.8 297.8C471.1 298.9 472.4 300.0 473.8 301.1C475.1 302.2 476.4 303.3 477.8 304.5C479.1 305.6 480.5 306.7 481.8 307.8C483.1 309.0 484.5 310.1 485.8 311.2C487.1 312.4 488.5 313.5 489.8 314.7C491.1 315.9 492.5 317.1 493.8 318.3C495.2 319.5 496.5 320.8 497.8 322.0C499.2 323.2 500.5 324.5 501.9 325.8C503.2 327.0 504.5 328.3 505.9 329.6C507.2 330.9 508.5 332.3 509.9 333.6C511.2 334.9 512.6 336.2 513.9 337.6C515.2 338.9 516.6 340.3 517.9 341.6C519.2 343.0 520.6 344.4 521.9 345.8C523.2 347.1 524.6 348.5 525.9 349.9C527.3 351.3 528.6 352.7 529.9 354.1C531.3 355.5 532.6 356.9 534.0 358.3C535.3 359.7 536.6 361.2 538.0 362.6C539.3 364.0 540.6 365.4 542.0 366.8C543.3 368.2 544.6 369.6 546.0 371.0C547.3 372.4 548.7 373.8 550.0 375.2C551.3 376.6 552.7 378.0 554.0 379.4C555.4 380.8 556.7 382.1 558.0 383.5C559.4 384.9 560.7 386.2 562.0 387.6C563.4 388.9 564.7 390.2 566.0 391.6C567.4 392.9 568.7 394.2 570.1 395.5C571.4 396.8 572.7 398.0 574.1 399.3C575.4 400.5 576.8 401.8 578.1 403.0C579.4 404.2 580.8 405.4 582.1 406.6C583.4 407.8 584.8 408.9 586.1 410.0C587.5 411.2 588.8 412.3 590.1 413.4C591.5 414.4 592.8 415.5 594.1 416.5C595.5 417.5 596.8 418.5 598.1 419.5C599.5 420.5 600.8 421.4 602.2 422.3C603.5 423.2 604.8 424.1 606.2 425.0C607.5 425.8 608.9 426.6 610.2 427.4C611.5 428.2 612.9 428.9 614.2 429.7C615.5 430.4 616.9 431.1 618.2 431.7C619.5 432.4 620.9 433.0 622.2 433.6C623.6 434.2 624.9 434.8 626.2 435.3C627.6 435.9 628.9 436.4 630.2 436.8C631.6 437.3 632.9 437.7 634.3 438.1C635.6 438.5 636.9 438.8 638.3 439.1C639.6 439.4 641.0 439.7 642.3 440.0C643.6 440.3 645.0 440.5 646.3 440.7C647.6 440.9 649.0 441.1 650.3 441.3C651.6 441.5 653.0 441.7 654.3 441.9C655.7 442.0 657.0 442.2 658.3 442.3C659.7 442.4 661.0 442.6 662.4 442.7C663.7 442.8 665.0 442.9 666.4 443.0C667.7 443.1 669.0 443.2 670.4 443.3C671.7 443.3 673.1 443.4 674.4 443.5C675.7 443.5 677.7 443.6 678.4 443.6" fill="none" stroke="#00b050" stroke-width="3.3" stroke-linecap="round" stroke-linejoin="round"/>
<text x="50.3" y="450.8" text-anchor="end" class="t20">0</text>
<text x="50.3" y="407.2" text-anchor="end" class="t20">2</text>
<text x="50.3" y="363.5" text-anchor="end" class="t20">4</text>
<text x="50.3" y="319.9" text-anchor="end" class="t20">6</text>
<text x="50.3" y="276.2" text-anchor="end" class="t20">8</text>
<text x="50.3" y="232.6" text-anchor="end" class="t20">10</text>
<text x="50.3" y="188.9" text-anchor="end" class="t20">12</text>
<text x="50.3" y="145.2" text-anchor="end" class="t20">14</text>
<text x="50.3" y="101.6" text-anchor="end" class="t20">16</text>
<text x="50.3" y="58.0" text-anchor="end" class="t20">18</text>
<text x="50.3" y="14.3" text-anchor="end" class="t20">20</text>
<text x="67.8" y="474.8" text-anchor="middle" class="t20">100000</text>
<text x="189.8" y="474.8" text-anchor="middle" class="t20">10000</text>
<text x="311.9" y="474.8" text-anchor="middle" class="t20">1000</text>
<text x="433.9" y="474.8" text-anchor="middle" class="t20">100</text>
<text x="556.0" y="474.8" text-anchor="middle" class="t20">10</text>
<text x="678.0" y="474.8" text-anchor="middle" class="t20">1</text>
<text x="249.5" y="48.0" class="t24">a)</text>
<text x="285.0" y="48.0" class="t24">28-days</text>
<text x="346.6" y="513.1" text-anchor="middle" style="font-size:20.3px">Pore Diameter, nm</text>
<text transform="translate(14.6 225.3) rotate(-90) scale(1.024 1.26)" text-anchor="middle" class="t20">Cumulative Porosity, %</text>
<rect x="515.3" y="21.0" width="156.0" height="188.7" fill="none" stroke="#000" stroke-width="2"/>
<path d="M538.5 36.8H577.4" stroke="#ff0000" stroke-width="2.1" stroke-linecap="round"/>
<text x="581.3" y="42.9" style="font-size:18.5px">0%-nSi</text>
<path d="M538.5 68.3H577.4" stroke="#7030a0" stroke-width="3.3" stroke-linecap="round"/>
<text x="581.3" y="74.4" style="font-size:18.5px">1%-nSi</text>
<path d="M538.5 99.8H577.4" stroke="#00b0f0" stroke-width="3.3" stroke-linecap="round"/>
<text x="581.3" y="105.9" style="font-size:18.5px">2.5%-nSi</text>
<path d="M538.5 131.3H577.4" stroke="#000000" stroke-width="3.3" stroke-linecap="round"/>
<text x="581.3" y="137.4" style="font-size:18.5px">5%-nSi</text>
<path d="M538.5 162.7H577.4" stroke="#843c0c" stroke-width="3.3" stroke-linecap="round"/>
<text x="581.3" y="168.8" style="font-size:18.5px">7.5%-nSi</text>
<path d="M538.5 194.2H577.4" stroke="#00b050" stroke-width="3.3" stroke-linecap="round"/>
<text x="581.3" y="200.3" style="font-size:18.5px">OPC</text>
</g>
<g id="chart-b">
<path d="M188.8 575.2V1002.3M311.9 575.2V1002.3M435.0 575.2V1002.3M558.1 575.2V1002.3" stroke="#e8e8e8" stroke-width="1.6" fill="none"/>
<path d="M65.7 959.6H681.2M65.7 916.9H681.2M65.7 874.2H681.2M65.7 831.5H681.2M65.7 788.8H681.2M65.7 746.0H681.2M65.7 703.3H681.2M65.7 660.6H681.2M65.7 617.9H681.2" stroke="#d6d6d6" stroke-width="1.2" fill="none"/>
<rect x="65.7" y="575.2" width="615.6" height="427.1" fill="none" stroke="#000" stroke-width="2.25"/>
<path d="M59.5 1002.3H65.7M59.5 959.6H65.7M59.5 916.9H65.7M59.5 874.2H65.7M59.5 831.5H65.7M59.5 788.8H65.7M59.5 746.0H65.7M59.5 703.3H65.7M59.5 660.6H65.7M59.5 617.9H65.7M59.5 575.2H65.7M65.7 1002.3V1008.6M188.8 1002.3V1008.6M311.9 1002.3V1008.6M435.0 1002.3V1008.6M558.1 1002.3V1008.6M681.2 1002.3V1008.6" stroke="#000" stroke-width="2.25" fill="none"/>
<path d="M151.7 1002.3V1007.0M130.0 1002.3V1007.0M114.6 1002.3V1007.0M102.7 1002.3V1007.0M93.0 1002.3V1007.0M84.7 1002.3V1007.0M77.6 1002.3V1007.0M71.3 1002.3V1007.0M274.8 1002.3V1007.0M253.1 1002.3V1007.0M237.8 1002.3V1007.0M225.8 1002.3V1007.0M216.1 1002.3V1007.0M207.8 1002.3V1007.0M200.7 1002.3V1007.0M194.4 1002.3V1007.0M397.9 1002.3V1007.0M376.2 1002.3V1007.0M360.9 1002.3V1007.0M348.9 1002.3V1007.0M339.2 1002.3V1007.0M330.9 1002.3V1007.0M323.8 1002.3V1007.0M317.5 1002.3V1007.0M521.0 1002.3V1007.0M499.4 1002.3V1007.0M484.0 1002.3V1007.0M472.0 1002.3V1007.0M462.3 1002.3V1007.0M454.0 1002.3V1007.0M446.9 1002.3V1007.0M440.6 1002.3V1007.0M644.1 1002.3V1007.0M622.5 1002.3V1007.0M607.1 1002.3V1007.0M595.1 1002.3V1007.0M585.4 1002.3V1007.0M577.2 1002.3V1007.0M570.0 1002.3V1007.0M563.7 1002.3V1007.0" stroke="#000" stroke-width="2" fill="none"/>
<path d="M66.2 630.2C66.9 630.2 68.9 630.2 70.2 630.2C71.5 630.2 72.9 630.2 74.2 630.2C75.5 630.2 76.9 630.2 78.2 630.2C79.5 630.2 80.8 630.2 82.2 630.2C83.5 630.3 84.8 630.3 86.2 630.4C87.5 630.5 88.8 630.6 90.2 630.7C91.5 630.9 92.8 631.1 94.2 631.4C95.5 631.6 96.8 631.9 98.2 632.3C99.5 632.6 100.8 633.0 102.1 633.4C103.5 633.8 104.8 634.3 106.1 634.8C107.5 635.3 108.8 635.9 110.1 636.5C111.5 637.1 112.8 637.7 114.1 638.3C115.5 639.0 116.8 639.6 118.1 640.3C119.5 641.0 120.8 641.7 122.1 642.5C123.4 643.2 124.8 644.0 126.1 644.8C127.4 645.7 128.8 646.5 130.1 647.4C131.4 648.3 132.8 649.2 134.1 650.1C135.4 651.0 136.8 651.9 138.1 652.9C139.4 653.8 140.8 654.8 142.1 655.7C143.4 656.7 144.8 657.7 146.1 658.6C147.4 659.6 148.7 660.6 150.1 661.5C151.4 662.5 152.7 663.4 154.1 664.4C155.4 665.3 156.7 666.2 158.1 667.1C159.4 668.0 160.7 668.9 162.1 669.8C163.4 670.7 164.7 671.6 166.1 672.5C167.4 673.4 168.7 674.2 170.0 675.1C171.4 676.0 172.7 676.8 174.0 677.7C175.4 678.5 176.7 679.4 178.0 680.2C179.4 681.1 180.7 681.9 182.0 682.8C183.4 683.6 184.7 684.4 186.0 685.3C187.4 686.1 188.7 686.9 190.0 687.7C191.4 688.6 192.7 689.4 194.0 690.2C195.3 691.0 196.7 691.8 198.0 692.6C199.3 693.4 200.7 694.2 202.0 695.0C203.3 695.8 204.7 696.6 206.0 697.4C207.3 698.2 208.7 699.0 210.0 699.8C211.3 700.6 212.7 701.4 214.0 702.1C215.3 702.9 216.6 703.7 218.0 704.5C219.3 705.3 220.6 706.0 222.0 706.8C223.3 707.6 224.6 708.3 226.0 709.1C227.3 709.9 228.6 710.7 230.0 711.4C231.3 712.2 232.6 713.0 234.0 713.7C235.3 714.5 236.6 715.2 237.9 716.0C239.3 716.8 240.6 717.5 241.9 718.3C243.3 719.1 244.6 719.8 245.9 720.6C247.3 721.3 248.6 722.1 249.9 722.9C251.3 723.6 252.6 724.4 253.9 725.1C255.3 725.9 256.6 726.7 257.9 727.4C259.3 728.2 260.6 729.0 261.9 729.7C263.2 730.5 264.6 731.3 265.9 732.0C267.2 732.8 268.6 733.5 269.9 734.3C271.2 735.1 272.6 735.9 273.9 736.6C275.2 737.4 276.6 738.2 277.9 738.9C279.2 739.7 280.6 740.5 281.9 741.3C283.2 742.0 284.5 742.8 285.9 743.6C287.2 744.4 288.5 745.2 289.9 746.0C291.2 746.7 292.5 747.5 293.9 748.3C295.2 749.1 296.5 749.9 297.9 750.7C299.2 751.5 300.5 752.3 301.9 753.1C303.2 753.9 304.5 754.7 305.8 755.5C307.2 756.4 308.5 757.2 309.8 758.0C311.2 758.8 312.5 759.6 313.8 760.5C315.2 761.3 316.5 762.1 317.8 762.9C319.2 763.8 320.5 764.6 321.8 765.5C323.2 766.3 324.5 767.2 325.8 768.0C327.2 768.9 328.5 769.7 329.8 770.6C331.1 771.5 332.5 772.3 333.8 773.2C335.1 774.1 336.5 774.9 337.8 775.8C339.1 776.7 340.5 777.6 341.8 778.5C343.1 779.4 344.5 780.3 345.8 781.2C347.1 782.1 348.5 783.0 349.8 784.0C351.1 784.9 352.4 785.8 353.8 786.7C355.1 787.7 356.4 788.6 357.8 789.6C359.1 790.5 360.4 791.5 361.8 792.4C363.1 793.4 364.4 794.4 365.8 795.3C367.1 796.3 368.4 797.3 369.8 798.3C371.1 799.3 372.4 800.3 373.7 801.3C375.1 802.3 376.4 803.3 377.7 804.3C379.1 805.3 380.4 806.4 381.7 807.4C383.1 808.4 384.4 809.5 385.7 810.5C387.1 811.6 388.4 812.7 389.7 813.7C391.1 814.8 392.4 815.9 393.7 817.0C395.1 818.1 396.4 819.1 397.7 820.3C399.0 821.4 400.4 822.5 401.7 823.6C403.0 824.7 404.4 825.8 405.7 827.0C407.0 828.1 408.4 829.2 409.7 830.4C411.0 831.5 412.4 832.7 413.7 833.8C415.0 835.0 416.4 836.2 417.7 837.4C419.0 838.5 420.3 839.7 421.7 840.9C423.0 842.1 424.3 843.3 425.7 844.5C427.0 845.7 428.3 847.0 429.7 848.2C431.0 849.4 432.3 850.7 433.7 851.9C435.0 853.1 436.3 854.4 437.7 855.6C439.0 856.9 440.3 858.2 441.7 859.4C443.0 860.7 444.3 862.0 445.6 863.3C447.0 864.6 448.3 865.9 449.6 867.2C451.0 868.5 452.3 869.8 453.6 871.1C455.0 872.4 456.3 873.7 457.6 875.1C459.0 876.4 460.3 877.7 461.6 879.1C463.0 880.4 464.3 881.8 465.6 883.1C466.9 884.5 468.3 885.8 469.6 887.2C470.9 888.5 472.3 889.9 473.6 891.2C474.9 892.6 476.3 894.0 477.6 895.3C478.9 896.7 480.3 898.1 481.6 899.4C482.9 900.8 484.3 902.2 485.6 903.5C486.9 904.9 488.2 906.3 489.6 907.6C490.9 909.0 492.2 910.4 493.6 911.7C494.9 913.1 496.2 914.5 497.6 915.8C498.9 917.2 500.2 918.5 501.6 919.9C502.9 921.2 504.2 922.6 505.6 923.9C506.9 925.2 508.2 926.6 509.6 927.9C510.9 929.2 512.2 930.5 513.5 931.9C514.9 933.2 516.2 934.5 517.5 935.8C518.9 937.1 520.2 938.4 521.5 939.7C522.9 940.9 524.2 942.2 525.5 943.5C526.9 944.7 528.2 946.0 529.5 947.2C530.9 948.5 532.2 949.7 533.5 950.9C534.8 952.1 536.2 953.3 537.5 954.5C538.8 955.7 540.2 956.9 541.5 958.1C542.8 959.2 544.2 960.4 545.5 961.5C546.8 962.6 548.2 963.7 549.5 964.8C550.8 965.9 552.2 967.0 553.5 968.1C554.8 969.1 556.1 970.2 557.5 971.2C558.8 972.2 560.1 973.2 561.5 974.2C562.8 975.1 564.1 976.1 565.5 977.0C566.8 977.9 568.1 978.8 569.5 979.7C570.8 980.6 572.1 981.4 573.5 982.3C574.8 983.1 576.1 983.9 577.5 984.7C578.8 985.4 580.1 986.2 581.4 986.9C582.8 987.6 584.1 988.3 585.4 989.0C586.8 989.6 588.1 990.2 589.4 990.8C590.8 991.4 592.1 992.0 593.4 992.5C594.8 993.1 596.1 993.6 597.4 994.1C598.8 994.5 600.1 995.0 601.4 995.4C602.7 995.8 604.1 996.2 605.4 996.6C606.7 997.0 608.1 997.4 609.4 997.7C610.7 998.1 612.1 998.4 613.4 998.7C614.7 999.0 616.1 999.3 617.4 999.5C618.7 999.8 620.1 1000.0 621.4 1000.2C622.7 1000.4 624.1 1000.6 625.4 1000.7C626.7 1000.9 628.0 1001.0 629.4 1001.2C630.7 1001.3 632.0 1001.4 633.4 1001.5C634.7 1001.6 636.0 1001.6 637.4 1001.7C638.7 1001.8 640.0 1001.8 641.4 1001.9C642.7 1001.9 644.0 1002.0 645.4 1002.0C646.7 1002.1 648.0 1002.1 649.3 1002.1C650.7 1002.1 652.0 1002.2 653.3 1002.2C654.7 1002.2 656.0 1002.2 657.3 1002.2C658.7 1002.3 660.0 1002.3 661.3 1002.3C662.7 1002.3 664.0 1002.3 665.3 1002.3C666.7 1002.3 668.0 1002.3 669.3 1002.4C670.6 1002.4 672.0 1002.4 673.3 1002.4C674.6 1002.4 676.0 1002.4 677.3 1002.4C678.6 1002.4 680.6 1002.4 681.3 1002.4" fill="none" stroke="#ff0000" stroke-width="2.1" stroke-linecap="round" stroke-linejoin="round"/>
<path d="M66.2 702.8C66.9 702.8 68.9 702.8 70.2 702.8C71.5 702.8 72.9 702.8 74.2 702.8C75.5 702.8 76.9 702.8 78.2 702.8C79.5 702.8 80.8 702.8 82.2 702.8C83.5 702.8 84.8 702.8 86.2 702.8C87.5 702.8 88.8 702.8 90.2 702.8C91.5 702.8 92.8 702.8 94.2 702.8C95.5 702.8 96.8 702.8 98.2 702.8C99.5 702.8 100.8 702.9 102.1 702.9C103.5 703.0 104.8 703.1 106.1 703.2C107.5 703.3 108.8 703.5 110.1 703.6C111.5 703.8 112.8 704.0 114.1 704.2C115.5 704.5 116.8 704.7 118.1 705.0C119.5 705.3 120.8 705.6 122.1 705.9C123.4 706.3 124.8 706.6 126.1 707.0C127.4 707.4 128.8 707.8 130.1 708.3C131.4 708.7 132.8 709.2 134.1 709.7C135.4 710.2 136.8 710.8 138.1 711.3C139.4 711.9 140.8 712.5 142.1 713.2C143.4 713.8 144.8 714.5 146.1 715.1C147.4 715.8 148.7 716.5 150.1 717.3C151.4 718.0 152.7 718.7 154.1 719.5C155.4 720.2 156.7 721.0 158.1 721.8C159.4 722.6 160.7 723.3 162.1 724.1C163.4 724.9 164.7 725.8 166.1 726.6C167.4 727.4 168.7 728.2 170.0 729.1C171.4 729.9 172.7 730.7 174.0 731.6C175.4 732.4 176.7 733.3 178.0 734.2C179.4 735.0 180.7 735.9 182.0 736.8C183.4 737.6 184.7 738.5 186.0 739.4C187.4 740.3 188.7 741.1 190.0 742.0C191.4 742.9 192.7 743.8 194.0 744.6C195.3 745.5 196.7 746.4 198.0 747.2C199.3 748.1 200.7 749.0 202.0 749.8C203.3 750.7 204.7 751.5 206.0 752.4C207.3 753.2 208.7 754.1 210.0 754.9C211.3 755.7 212.7 756.5 214.0 757.4C215.3 758.2 216.6 759.0 218.0 759.7C219.3 760.5 220.6 761.3 222.0 762.1C223.3 762.8 224.6 763.6 226.0 764.3C227.3 765.0 228.6 765.7 230.0 766.4C231.3 767.1 232.6 767.8 234.0 768.4C235.3 769.1 236.6 769.7 237.9 770.3C239.3 770.9 240.6 771.5 241.9 772.1C243.3 772.7 244.6 773.2 245.9 773.8C247.3 774.3 248.6 774.8 249.9 775.3C251.3 775.8 252.6 776.3 253.9 776.8C255.3 777.2 256.6 777.7 257.9 778.1C259.3 778.6 260.6 779.0 261.9 779.4C263.2 779.8 264.6 780.2 265.9 780.6C267.2 781.0 268.6 781.4 269.9 781.8C271.2 782.1 272.6 782.5 273.9 782.9C275.2 783.2 276.6 783.6 277.9 783.9C279.2 784.3 280.6 784.6 281.9 785.0C283.2 785.3 284.5 785.7 285.9 786.0C287.2 786.3 288.5 786.7 289.9 787.0C291.2 787.3 292.5 787.7 293.9 788.0C295.2 788.4 296.5 788.7 297.9 789.0C299.2 789.4 300.5 789.7 301.9 790.1C303.2 790.4 304.5 790.8 305.8 791.2C307.2 791.5 308.5 791.9 309.8 792.3C311.2 792.7 312.5 793.1 313.8 793.5C315.2 793.9 316.5 794.3 317.8 794.7C319.2 795.1 320.5 795.6 321.8 796.0C323.2 796.5 324.5 796.9 325.8 797.4C327.2 797.9 328.5 798.4 329.8 798.9C331.1 799.4 332.5 799.9 333.8 800.5C335.1 801.0 336.5 801.5 337.8 802.1C339.1 802.7 340.5 803.2 341.8 803.8C343.1 804.4 344.5 805.0 345.8 805.6C347.1 806.2 348.5 806.8 349.8 807.5C351.1 808.1 352.4 808.7 353.8 809.4C355.1 810.0 356.4 810.7 357.8 811.3C359.1 812.0 360.4 812.7 361.8 813.3C363.1 814.0 364.4 814.7 365.8 815.4C367.1 816.1 368.4 816.8 369.8 817.5C371.1 818.2 372.4 818.9 373.7 819.6C375.1 820.3 376.4 821.0 377.7 821.7C379.1 822.4 380.4 823.1 381.7 823.8C383.1 824.5 384.4 825.3 385.7 826.0C387.1 826.7 388.4 827.4 389.7 828.1C391.1 828.8 392.4 829.6 393.7 830.3C395.1 831.0 396.4 831.7 397.7 832.4C399.0 833.1 400.4 833.8 401.7 834.5C403.0 835.2 404.4 835.9 405.7 836.6C407.0 837.3 408.4 838.0 409.7 838.7C411.0 839.4 412.4 840.1 413.7 840.8C415.0 841.5 416.4 842.2 417.7 842.9C419.0 843.5 420.3 844.2 421.7 844.9C423.0 845.6 424.3 846.3 425.7 847.0C427.0 847.7 428.3 848.3 429.7 849.0C431.0 849.7 432.3 850.4 433.7 851.1C435.0 851.8 436.3 852.5 437.7 853.2C439.0 853.9 440.3 854.6 441.7 855.3C443.0 856.0 444.3 856.7 445.6 857.4C447.0 858.1 448.3 858.8 449.6 859.5C451.0 860.2 452.3 860.9 453.6 861.6C455.0 862.4 456.3 863.1 457.6 863.8C459.0 864.6 460.3 865.3 461.6 866.1C463.0 866.9 464.3 867.7 465.6 868.5C466.9 869.2 468.3 870.1 469.6 870.9C470.9 871.7 472.3 872.6 473.6 873.5C474.9 874.3 476.3 875.2 477.6 876.1C478.9 877.1 480.3 878.0 481.6 879.0C482.9 879.9 484.3 880.9 485.6 881.9C486.9 882.9 488.2 883.9 489.6 884.9C490.9 886.0 492.2 887.0 493.6 888.1C494.9 889.2 496.2 890.3 497.6 891.4C498.9 892.5 500.2 893.6 501.6 894.8C502.9 895.9 504.2 897.1 505.6 898.2C506.9 899.4 508.2 900.6 509.6 901.8C510.9 903.0 512.2 904.2 513.5 905.5C514.9 906.7 516.2 907.9 517.5 909.2C518.9 910.5 520.2 911.7 521.5 913.0C522.9 914.3 524.2 915.6 525.5 916.9C526.9 918.2 528.2 919.5 529.5 920.8C530.9 922.1 532.2 923.5 533.5 924.8C534.8 926.2 536.2 927.5 537.5 928.9C538.8 930.2 540.2 931.6 541.5 932.9C542.8 934.3 544.2 935.7 545.5 937.1C546.8 938.4 548.2 939.8 549.5 941.2C550.8 942.6 552.2 943.9 553.5 945.3C554.8 946.7 556.1 948.0 557.5 949.4C558.8 950.7 560.1 952.0 561.5 953.4C562.8 954.7 564.1 956.0 565.5 957.3C566.8 958.6 568.1 959.9 569.5 961.1C570.8 962.4 572.1 963.7 573.5 964.9C574.8 966.1 576.1 967.3 577.5 968.5C578.8 969.6 580.1 970.8 581.4 971.9C582.8 973.0 584.1 974.1 585.4 975.2C586.8 976.2 588.1 977.3 589.4 978.3C590.8 979.3 592.1 980.2 593.4 981.1C594.8 982.1 596.1 983.0 597.4 983.8C598.8 984.7 600.1 985.5 601.4 986.2C602.7 987.0 604.1 987.8 605.4 988.5C606.7 989.2 608.1 989.9 609.4 990.5C610.7 991.2 612.1 991.8 613.4 992.4C614.7 993.0 616.1 993.6 617.4 994.1C618.7 994.6 620.1 995.1 621.4 995.6C622.7 996.0 624.1 996.5 625.4 996.9C626.7 997.2 628.0 997.6 629.4 997.9C630.7 998.2 632.0 998.5 633.4 998.8C634.7 999.1 636.0 999.3 637.4 999.5C638.7 999.8 640.0 1000.0 641.4 1000.1C642.7 1000.3 644.0 1000.5 645.4 1000.6C646.7 1000.8 648.0 1000.9 649.3 1001.0C650.7 1001.1 652.0 1001.2 653.3 1001.3C654.7 1001.3 656.0 1001.4 657.3 1001.5C658.7 1001.5 660.0 1001.6 661.3 1001.6C662.7 1001.7 664.0 1001.7 665.3 1001.8C666.7 1001.8 668.0 1001.9 669.3 1001.9C670.6 1001.9 672.0 1002.0 673.3 1002.0C674.6 1002.0 676.0 1002.0 677.3 1002.1C678.6 1002.1 680.6 1002.1 681.3 1002.1" fill="none" stroke="#7030a0" stroke-width="3.3" stroke-linecap="round" stroke-linejoin="round"/>
<path d="M66.2 747.9C66.9 747.9 68.9 748.1 70.2 748.2C71.5 748.3 72.9 748.4 74.2 748.5C75.5 748.7 76.9 748.8 78.2 749.0C79.5 749.2 80.8 749.4 82.2 749.6C83.5 749.8 84.8 750.0 86.2 750.3C87.5 750.5 88.8 750.8 90.2 751.1C91.5 751.3 92.8 751.6 94.2 751.9C95.5 752.2 96.8 752.5 98.2 752.8C99.5 753.2 100.8 753.5 102.1 753.9C103.5 754.2 104.8 754.6 106.1 755.0C107.5 755.3 108.8 755.7 110.1 756.1C111.5 756.5 112.8 756.9 114.1 757.3C115.5 757.7 116.8 758.1 118.1 758.5C119.5 758.9 120.8 759.3 122.1 759.8C123.4 760.3 124.8 760.8 126.1 761.3C127.4 761.8 128.8 762.3 130.1 762.9C131.4 763.5 132.8 764.0 134.1 764.6C135.4 765.2 136.8 765.7 138.1 766.2C139.4 766.8 140.8 767.3 142.1 767.8C143.4 768.4 144.8 768.9 146.1 769.5C147.4 770.0 148.7 770.6 150.1 771.1C151.4 771.7 152.7 772.3 154.1 772.8C155.4 773.4 156.7 774.0 158.1 774.6C159.4 775.2 160.7 775.8 162.1 776.4C163.4 777.0 164.7 777.6 166.1 778.2C167.4 778.8 168.7 779.4 170.0 780.0C171.4 780.6 172.7 781.2 174.0 781.8C175.4 782.4 176.7 783.0 178.0 783.6C179.4 784.2 180.7 784.8 182.0 785.4C183.4 786.0 184.7 786.6 186.0 787.2C187.4 787.8 188.7 788.3 190.0 788.9C191.4 789.5 192.7 790.1 194.0 790.7C195.3 791.2 196.7 791.8 198.0 792.4C199.3 793.0 200.7 793.5 202.0 794.1C203.3 794.6 204.7 795.2 206.0 795.7C207.3 796.3 208.7 796.8 210.0 797.3C211.3 797.9 212.7 798.4 214.0 798.9C215.3 799.4 216.6 799.9 218.0 800.4C219.3 800.9 220.6 801.4 222.0 801.9C223.3 802.4 224.6 802.8 226.0 803.3C227.3 803.8 228.6 804.2 230.0 804.6C231.3 805.1 232.6 805.5 234.0 805.9C235.3 806.4 236.6 806.8 237.9 807.2C239.3 807.6 240.6 808.0 241.9 808.4C243.3 808.8 244.6 809.2 245.9 809.6C247.3 809.9 248.6 810.3 249.9 810.7C251.3 811.1 252.6 811.5 253.9 811.8C255.3 812.2 256.6 812.6 257.9 813.0C259.3 813.3 260.6 813.7 261.9 814.1C263.2 814.5 264.6 814.8 265.9 815.2C267.2 815.6 268.6 816.0 269.9 816.4C271.2 816.8 272.6 817.2 273.9 817.6C275.2 817.9 276.6 818.3 277.9 818.8C279.2 819.2 280.6 819.6 281.9 820.0C283.2 820.4 284.5 820.8 285.9 821.3C287.2 821.7 288.5 822.1 289.9 822.6C291.2 823.0 292.5 823.4 293.9 823.9C295.2 824.3 296.5 824.8 297.9 825.3C299.2 825.7 300.5 826.2 301.9 826.6C303.2 827.1 304.5 827.6 305.8 828.0C307.2 828.5 308.5 829.0 309.8 829.5C311.2 830.0 312.5 830.4 313.8 830.9C315.2 831.4 316.5 831.9 317.8 832.4C319.2 832.9 320.5 833.4 321.8 833.9C323.2 834.4 324.5 834.9 325.8 835.4C327.2 835.9 328.5 836.4 329.8 836.9C331.1 837.4 332.5 837.9 333.8 838.4C335.1 838.9 336.5 839.5 337.8 840.0C339.1 840.5 340.5 841.0 341.8 841.5C343.1 842.0 344.5 842.5 345.8 843.0C347.1 843.5 348.5 844.0 349.8 844.5C351.1 845.0 352.4 845.5 353.8 846.0C355.1 846.5 356.4 847.0 357.8 847.5C359.1 848.0 360.4 848.5 361.8 849.0C363.1 849.5 364.4 850.0 365.8 850.5C367.1 851.0 368.4 851.4 369.8 851.9C371.1 852.4 372.4 852.9 373.7 853.4C375.1 853.9 376.4 854.4 377.7 854.9C379.1 855.4 380.4 855.9 381.7 856.4C383.1 856.9 384.4 857.4 385.7 857.9C387.1 858.4 388.4 858.9 389.7 859.4C391.1 859.9 392.4 860.4 393.7 860.9C395.1 861.4 396.4 861.9 397.7 862.4C399.0 863.0 400.4 863.5 401.7 864.0C403.0 864.5 404.4 865.0 405.7 865.5C407.0 866.1 408.4 866.6 409.7 867.1C411.0 867.6 412.4 868.2 413.7 868.7C415.0 869.2 416.4 869.7 417.7 870.3C419.0 870.8 420.3 871.3 421.7 871.8C423.0 872.4 424.3 872.9 425.7 873.4C427.0 874.0 428.3 874.5 429.7 875.0C431.0 875.6 432.3 876.1 433.7 876.6C435.0 877.2 436.3 877.7 437.7 878.3C439.0 878.8 440.3 879.3 441.7 879.9C443.0 880.4 444.3 881.0 445.6 881.5C447.0 882.1 448.3 882.6 449.6 883.2C451.0 883.7 452.3 884.3 453.6 884.9C455.0 885.5 456.3 886.0 457.6 886.6C459.0 887.2 460.3 887.8 461.6 888.4C463.0 889.1 464.3 889.7 465.6 890.3C466.9 891.0 468.3 891.6 469.6 892.3C470.9 892.9 472.3 893.6 473.6 894.3C474.9 895.0 476.3 895.7 477.6 896.4C478.9 897.2 480.3 897.9 481.6 898.7C482.9 899.4 484.3 900.2 485.6 901.0C486.9 901.8 488.2 902.6 489.6 903.4C490.9 904.3 492.2 905.1 493.6 905.9C494.9 906.8 496.2 907.6 497.6 908.5C498.9 909.4 500.2 910.3 501.6 911.2C502.9 912.1 504.2 913.0 505.6 913.9C506.9 914.9 508.2 915.8 509.6 916.8C510.9 917.7 512.2 918.7 513.5 919.6C514.9 920.6 516.2 921.6 517.5 922.6C518.9 923.6 520.2 924.6 521.5 925.6C522.9 926.6 524.2 927.6 525.5 928.7C526.9 929.7 528.2 930.7 529.5 931.8C530.9 932.8 532.2 933.9 533.5 934.9C534.8 936.0 536.2 937.1 537.5 938.2C538.8 939.2 540.2 940.3 541.5 941.4C542.8 942.5 544.2 943.6 545.5 944.7C546.8 945.8 548.2 946.9 549.5 948.0C550.8 949.1 552.2 950.2 553.5 951.3C554.8 952.4 556.1 953.6 557.5 954.7C558.8 955.8 560.1 956.9 561.5 957.9C562.8 959.0 564.1 960.1 565.5 961.2C566.8 962.3 568.1 963.3 569.5 964.4C570.8 965.5 572.1 966.5 573.5 967.5C574.8 968.6 576.1 969.6 577.5 970.6C578.8 971.6 580.1 972.6 581.4 973.5C582.8 974.5 584.1 975.4 585.4 976.3C586.8 977.3 588.1 978.2 589.4 979.0C590.8 979.9 592.1 980.7 593.4 981.6C594.8 982.4 596.1 983.2 597.4 983.9C598.8 984.7 600.1 985.4 601.4 986.1C602.7 986.8 604.1 987.5 605.4 988.1C606.7 988.8 608.1 989.4 609.4 990.0C610.7 990.6 612.1 991.2 613.4 991.7C614.7 992.3 616.1 992.8 617.4 993.3C618.7 993.9 620.1 994.4 621.4 994.8C622.7 995.3 624.1 995.7 625.4 996.2C626.7 996.6 628.0 997.0 629.4 997.3C630.7 997.7 632.0 998.0 633.4 998.3C634.7 998.6 636.0 998.9 637.4 999.2C638.7 999.4 640.0 999.6 641.4 999.9C642.7 1000.1 644.0 1000.2 645.4 1000.4C646.7 1000.5 648.0 1000.7 649.3 1000.8C650.7 1000.9 652.0 1001.0 653.3 1001.1C654.7 1001.1 656.0 1001.2 657.3 1001.3C658.7 1001.3 660.0 1001.4 661.3 1001.4C662.7 1001.5 664.0 1001.5 665.3 1001.6C666.7 1001.6 668.0 1001.7 669.3 1001.7C670.6 1001.8 672.0 1001.8 673.3 1001.8C674.6 1001.9 676.0 1001.9 677.3 1001.9C678.6 1002.0 680.6 1002.0 681.3 1002.0" fill="none" stroke="#00b0f0" stroke-width="3.3" stroke-linecap="round" stroke-linejoin="round"/>
<path d="M66.2 781.5C66.9 781.5 68.9 781.5 70.2 781.5C71.5 781.5 72.9 781.5 74.2 781.5C75.5 781.5 76.9 781.6 78.2 781.6C79.5 781.7 80.8 781.7 82.2 781.8C83.5 781.9 84.8 782.0 86.2 782.1C87.5 782.2 88.8 782.3 90.2 782.4C91.5 782.6 92.8 782.7 94.2 782.9C95.5 783.0 96.8 783.2 98.2 783.4C99.5 783.6 100.8 783.8 102.1 784.0C103.5 784.2 104.8 784.4 106.1 784.6C107.5 784.9 108.8 785.1 110.1 785.4C111.5 785.6 112.8 785.8 114.1 786.1C115.5 786.4 116.8 786.6 118.1 786.9C119.5 787.1 120.8 787.4 122.1 787.7C123.4 787.9 124.8 788.2 126.1 788.5C127.4 788.7 128.8 789.0 130.1 789.3C131.4 789.6 132.8 789.8 134.1 790.1C135.4 790.4 136.8 790.7 138.1 791.0C139.4 791.2 140.8 791.5 142.1 791.8C143.4 792.1 144.8 792.4 146.1 792.7C147.4 793.0 148.7 793.3 150.1 793.6C151.4 794.0 152.7 794.3 154.1 794.6C155.4 794.9 156.7 795.2 158.1 795.6C159.4 795.9 160.7 796.2 162.1 796.6C163.4 796.9 164.7 797.3 166.1 797.6C167.4 798.0 168.7 798.3 170.0 798.7C171.4 799.0 172.7 799.4 174.0 799.8C175.4 800.1 176.7 800.5 178.0 800.8C179.4 801.2 180.7 801.6 182.0 802.0C183.4 802.3 184.7 802.7 186.0 803.1C187.4 803.5 188.7 803.8 190.0 804.2C191.4 804.6 192.7 805.0 194.0 805.4C195.3 805.8 196.7 806.1 198.0 806.5C199.3 806.9 200.7 807.3 202.0 807.7C203.3 808.1 204.7 808.5 206.0 808.9C207.3 809.3 208.7 809.7 210.0 810.1C211.3 810.5 212.7 810.9 214.0 811.3C215.3 811.7 216.6 812.1 218.0 812.5C219.3 812.9 220.6 813.3 222.0 813.7C223.3 814.1 224.6 814.5 226.0 814.9C227.3 815.3 228.6 815.7 230.0 816.1C231.3 816.5 232.6 816.9 234.0 817.3C235.3 817.7 236.6 818.1 237.9 818.5C239.3 818.9 240.6 819.3 241.9 819.7C243.3 820.1 244.6 820.5 245.9 820.9C247.3 821.3 248.6 821.7 249.9 822.1C251.3 822.5 252.6 822.9 253.9 823.3C255.3 823.7 256.6 824.1 257.9 824.5C259.3 824.9 260.6 825.3 261.9 825.7C263.2 826.1 264.6 826.5 265.9 826.9C267.2 827.3 268.6 827.7 269.9 828.1C271.2 828.5 272.6 828.9 273.9 829.2C275.2 829.6 276.6 830.0 277.9 830.4C279.2 830.8 280.6 831.2 281.9 831.6C283.2 831.9 284.5 832.3 285.9 832.7C287.2 833.1 288.5 833.5 289.9 833.8C291.2 834.2 292.5 834.6 293.9 835.0C295.2 835.3 296.5 835.7 297.9 836.1C299.2 836.4 300.5 836.8 301.9 837.2C303.2 837.5 304.5 837.9 305.8 838.3C307.2 838.6 308.5 839.0 309.8 839.3C311.2 839.7 312.5 840.0 313.8 840.4C315.2 840.7 316.5 841.1 317.8 841.4C319.2 841.8 320.5 842.1 321.8 842.5C323.2 842.8 324.5 843.1 325.8 843.5C327.2 843.8 328.5 844.2 329.8 844.5C331.1 844.8 332.5 845.2 333.8 845.5C335.1 845.8 336.5 846.2 337.8 846.5C339.1 846.9 340.5 847.2 341.8 847.5C343.1 847.9 344.5 848.2 345.8 848.6C347.1 848.9 348.5 849.2 349.8 849.6C351.1 849.9 352.4 850.3 353.8 850.6C355.1 851.0 356.4 851.3 357.8 851.6C359.1 852.0 360.4 852.3 361.8 852.7C363.1 853.1 364.4 853.4 365.8 853.8C367.1 854.1 368.4 854.5 369.8 854.9C371.1 855.2 372.4 855.6 373.7 856.0C375.1 856.3 376.4 856.7 377.7 857.1C379.1 857.5 380.4 857.9 381.7 858.3C383.1 858.7 384.4 859.1 385.7 859.5C387.1 859.9 388.4 860.3 389.7 860.7C391.1 861.1 392.4 861.5 393.7 861.9C395.1 862.3 396.4 862.8 397.7 863.2C399.0 863.6 400.4 864.1 401.7 864.5C403.0 864.9 404.4 865.4 405.7 865.8C407.0 866.3 408.4 866.7 409.7 867.2C411.0 867.6 412.4 868.1 413.7 868.6C415.0 869.0 416.4 869.5 417.7 870.0C419.0 870.4 420.3 870.9 421.7 871.4C423.0 871.9 424.3 872.3 425.7 872.8C427.0 873.3 428.3 873.8 429.7 874.2C431.0 874.7 432.3 875.2 433.7 875.7C435.0 876.2 436.3 876.7 437.7 877.2C439.0 877.7 440.3 878.2 441.7 878.6C443.0 879.1 444.3 879.6 445.6 880.1C447.0 880.6 448.3 881.1 449.6 881.7C451.0 882.2 452.3 882.7 453.6 883.2C455.0 883.7 456.3 884.3 457.6 884.8C459.0 885.3 460.3 885.9 461.6 886.4C463.0 887.0 464.3 887.5 465.6 888.1C466.9 888.6 468.3 889.2 469.6 889.8C470.9 890.4 472.3 891.0 473.6 891.6C474.9 892.2 476.3 892.8 477.6 893.4C478.9 894.0 480.3 894.7 481.6 895.3C482.9 896.0 484.3 896.6 485.6 897.3C486.9 897.9 488.2 898.6 489.6 899.3C490.9 900.0 492.2 900.7 493.6 901.4C494.9 902.1 496.2 902.9 497.6 903.6C498.9 904.3 500.2 905.1 501.6 905.8C502.9 906.6 504.2 907.4 505.6 908.2C506.9 909.0 508.2 909.8 509.6 910.6C510.9 911.4 512.2 912.2 513.5 913.1C514.9 913.9 516.2 914.7 517.5 915.6C518.9 916.5 520.2 917.4 521.5 918.3C522.9 919.1 524.2 920.1 525.5 921.0C526.9 921.9 528.2 922.8 529.5 923.8C530.9 924.7 532.2 925.7 533.5 926.7C534.8 927.7 536.2 928.6 537.5 929.7C538.8 930.7 540.2 931.7 541.5 932.7C542.8 933.8 544.2 934.8 545.5 935.9C546.8 937.0 548.2 938.0 549.5 939.1C550.8 940.2 552.2 941.3 553.5 942.4C554.8 943.5 556.1 944.6 557.5 945.8C558.8 946.9 560.1 948.0 561.5 949.1C562.8 950.3 564.1 951.4 565.5 952.5C566.8 953.6 568.1 954.8 569.5 955.9C570.8 957.0 572.1 958.1 573.5 959.2C574.8 960.4 576.1 961.5 577.5 962.6C578.8 963.7 580.1 964.7 581.4 965.8C582.8 966.9 584.1 968.0 585.4 969.0C586.8 970.0 588.1 971.1 589.4 972.1C590.8 973.1 592.1 974.1 593.4 975.1C594.8 976.0 596.1 977.0 597.4 977.9C598.8 978.9 600.1 979.8 601.4 980.6C602.7 981.5 604.1 982.4 605.4 983.2C606.7 984.1 608.1 984.9 609.4 985.7C610.7 986.4 612.1 987.2 613.4 987.9C614.7 988.7 616.1 989.4 617.4 990.0C618.7 990.7 620.1 991.3 621.4 991.9C622.7 992.5 624.1 993.0 625.4 993.5C626.7 994.0 628.0 994.5 629.4 995.0C630.7 995.4 632.0 995.8 633.4 996.2C634.7 996.6 636.0 996.9 637.4 997.2C638.7 997.5 640.0 997.8 641.4 998.0C642.7 998.3 644.0 998.5 645.4 998.8C646.7 999.0 648.0 999.2 649.3 999.4C650.7 999.6 652.0 999.8 653.3 999.9C654.7 1000.1 656.0 1000.3 657.3 1000.4C658.7 1000.5 660.0 1000.7 661.3 1000.8C662.7 1000.9 664.0 1001.0 665.3 1001.1C666.7 1001.2 668.0 1001.3 669.3 1001.4C670.6 1001.5 672.0 1001.6 673.3 1001.6C674.6 1001.7 676.0 1001.7 677.3 1001.8C678.6 1001.8 680.6 1001.9 681.3 1001.9" fill="none" stroke="#000000" stroke-width="3.3" stroke-linecap="round" stroke-linejoin="round"/>
<path d="M66.2 799.5C66.9 799.5 68.9 799.6 70.2 799.7C71.5 799.8 72.9 799.9 74.2 799.9C75.5 800.0 76.9 800.1 78.2 800.2C79.5 800.3 80.8 800.4 82.2 800.5C83.5 800.6 84.8 800.7 86.2 800.8C87.5 800.9 88.8 801.0 90.2 801.1C91.5 801.2 92.8 801.4 94.2 801.5C95.5 801.6 96.8 801.8 98.2 801.9C99.5 802.1 100.8 802.2 102.1 802.4C103.5 802.6 104.8 802.7 106.1 802.9C107.5 803.1 108.8 803.2 110.1 803.4C111.5 803.6 112.8 803.8 114.1 803.9C115.5 804.1 116.8 804.3 118.1 804.5C119.5 804.7 120.8 804.9 122.1 805.1C123.4 805.3 124.8 805.5 126.1 805.7C127.4 805.9 128.8 806.1 130.1 806.3C131.4 806.6 132.8 806.8 134.1 807.0C135.4 807.3 136.8 807.5 138.1 807.7C139.4 807.9 140.8 808.2 142.1 808.4C143.4 808.6 144.8 808.9 146.1 809.1C147.4 809.3 148.7 809.6 150.1 809.8C151.4 810.0 152.7 810.3 154.1 810.5C155.4 810.8 156.7 811.1 158.1 811.3C159.4 811.6 160.7 811.8 162.1 812.1C163.4 812.4 164.7 812.6 166.1 812.9C167.4 813.2 168.7 813.4 170.0 813.7C171.4 814.0 172.7 814.3 174.0 814.5C175.4 814.8 176.7 815.1 178.0 815.4C179.4 815.7 180.7 816.0 182.0 816.2C183.4 816.5 184.7 816.8 186.0 817.1C187.4 817.4 188.7 817.7 190.0 818.0C191.4 818.3 192.7 818.5 194.0 818.8C195.3 819.1 196.7 819.4 198.0 819.7C199.3 820.0 200.7 820.3 202.0 820.6C203.3 820.9 204.7 821.2 206.0 821.5C207.3 821.8 208.7 822.1 210.0 822.4C211.3 822.7 212.7 823.0 214.0 823.3C215.3 823.6 216.6 823.9 218.0 824.2C219.3 824.5 220.6 824.8 222.0 825.1C223.3 825.4 224.6 825.7 226.0 826.0C227.3 826.3 228.6 826.6 230.0 826.9C231.3 827.2 232.6 827.5 234.0 827.8C235.3 828.1 236.6 828.4 237.9 828.7C239.3 829.0 240.6 829.3 241.9 829.6C243.3 829.9 244.6 830.2 245.9 830.5C247.3 830.8 248.6 831.1 249.9 831.4C251.3 831.7 252.6 832.0 253.9 832.3C255.3 832.6 256.6 832.9 257.9 833.2C259.3 833.6 260.6 833.9 261.9 834.2C263.2 834.5 264.6 834.8 265.9 835.1C267.2 835.4 268.6 835.8 269.9 836.1C271.2 836.4 272.6 836.7 273.9 837.1C275.2 837.4 276.6 837.7 277.9 838.0C279.2 838.4 280.6 838.7 281.9 839.0C283.2 839.4 284.5 839.7 285.9 840.0C287.2 840.4 288.5 840.7 289.9 841.0C291.2 841.4 292.5 841.7 293.9 842.1C295.2 842.4 296.5 842.7 297.9 843.0C299.2 843.4 300.5 843.7 301.9 844.0C303.2 844.3 304.5 844.7 305.8 845.0C307.2 845.3 308.5 845.6 309.8 845.9C311.2 846.2 312.5 846.5 313.8 846.8C315.2 847.1 316.5 847.4 317.8 847.7C319.2 848.0 320.5 848.3 321.8 848.5C323.2 848.8 324.5 849.1 325.8 849.4C327.2 849.6 328.5 849.9 329.8 850.2C331.1 850.4 332.5 850.7 333.8 851.0C335.1 851.2 336.5 851.5 337.8 851.7C339.1 852.0 340.5 852.3 341.8 852.5C343.1 852.8 344.5 853.0 345.8 853.3C347.1 853.6 348.5 853.8 349.8 854.1C351.1 854.3 352.4 854.6 353.8 854.9C355.1 855.1 356.4 855.4 357.8 855.6C359.1 855.9 360.4 856.2 361.8 856.4C363.1 856.7 364.4 857.0 365.8 857.3C367.1 857.5 368.4 857.8 369.8 858.1C371.1 858.4 372.4 858.7 373.7 859.0C375.1 859.3 376.4 859.6 377.7 859.9C379.1 860.2 380.4 860.5 381.7 860.8C383.1 861.1 384.4 861.4 385.7 861.8C387.1 862.1 388.4 862.4 389.7 862.8C391.1 863.1 392.4 863.5 393.7 863.8C395.1 864.2 396.4 864.6 397.7 864.9C399.0 865.3 400.4 865.7 401.7 866.1C403.0 866.4 404.4 866.8 405.7 867.2C407.0 867.6 408.4 868.0 409.7 868.4C411.0 868.8 412.4 869.2 413.7 869.6C415.0 870.1 416.4 870.5 417.7 870.9C419.0 871.3 420.3 871.7 421.7 872.2C423.0 872.6 424.3 873.0 425.7 873.5C427.0 873.9 428.3 874.4 429.7 874.8C431.0 875.2 432.3 875.7 433.7 876.1C435.0 876.6 436.3 877.0 437.7 877.5C439.0 878.0 440.3 878.4 441.7 878.9C443.0 879.3 444.3 879.8 445.6 880.3C447.0 880.7 448.3 881.2 449.6 881.7C451.0 882.2 452.3 882.7 453.6 883.2C455.0 883.6 456.3 884.1 457.6 884.7C459.0 885.2 460.3 885.7 461.6 886.2C463.0 886.7 464.3 887.2 465.6 887.8C466.9 888.3 468.3 888.9 469.6 889.4C470.9 890.0 472.3 890.6 473.6 891.1C474.9 891.7 476.3 892.3 477.6 892.9C478.9 893.5 480.3 894.1 481.6 894.8C482.9 895.4 484.3 896.0 485.6 896.7C486.9 897.3 488.2 898.0 489.6 898.7C490.9 899.3 492.2 900.0 493.6 900.7C494.9 901.4 496.2 902.1 497.6 902.8C498.9 903.6 500.2 904.3 501.6 905.1C502.9 905.8 504.2 906.6 505.6 907.4C506.9 908.1 508.2 908.9 509.6 909.7C510.9 910.5 512.2 911.4 513.5 912.2C514.9 913.0 516.2 913.9 517.5 914.7C518.9 915.6 520.2 916.5 521.5 917.4C522.9 918.2 524.2 919.1 525.5 920.1C526.9 921.0 528.2 921.9 529.5 922.9C530.9 923.8 532.2 924.8 533.5 925.8C534.8 926.8 536.2 927.8 537.5 928.8C538.8 929.8 540.2 930.8 541.5 931.9C542.8 932.9 544.2 934.0 545.5 935.0C546.8 936.1 548.2 937.2 549.5 938.3C550.8 939.4 552.2 940.5 553.5 941.6C554.8 942.7 556.1 943.9 557.5 945.0C558.8 946.1 560.1 947.3 561.5 948.4C562.8 949.6 564.1 950.7 565.5 951.9C566.8 953.0 568.1 954.1 569.5 955.3C570.8 956.4 572.1 957.5 573.5 958.7C574.8 959.8 576.1 960.9 577.5 962.0C578.8 963.1 580.1 964.3 581.4 965.3C582.8 966.4 584.1 967.5 585.4 968.6C586.8 969.6 588.1 970.7 589.4 971.7C590.8 972.7 592.1 973.8 593.4 974.7C594.8 975.7 596.1 976.7 597.4 977.7C598.8 978.6 600.1 979.5 601.4 980.4C602.7 981.3 604.1 982.2 605.4 983.0C606.7 983.9 608.1 984.7 609.4 985.5C610.7 986.3 612.1 987.1 613.4 987.8C614.7 988.6 616.1 989.3 617.4 989.9C618.7 990.6 620.1 991.2 621.4 991.8C622.7 992.4 624.1 992.9 625.4 993.5C626.7 994.0 628.0 994.4 629.4 994.9C630.7 995.3 632.0 995.7 633.4 996.1C634.7 996.5 636.0 996.8 637.4 997.1C638.7 997.4 640.0 997.7 641.4 998.0C642.7 998.3 644.0 998.5 645.4 998.8C646.7 999.0 648.0 999.2 649.3 999.4C650.7 999.6 652.0 999.8 653.3 999.9C654.7 1000.1 656.0 1000.3 657.3 1000.4C658.7 1000.6 660.0 1000.7 661.3 1000.8C662.7 1000.9 664.0 1001.0 665.3 1001.1C666.7 1001.2 668.0 1001.3 669.3 1001.4C670.6 1001.5 672.0 1001.6 673.3 1001.6C674.6 1001.7 676.0 1001.7 677.3 1001.8C678.6 1001.8 680.6 1001.9 681.3 1001.9" fill="none" stroke="#843c0c" stroke-width="3.3" stroke-linecap="round" stroke-linejoin="round"/>
<path d="M66.2 695.9C66.9 695.9 68.9 695.9 70.2 695.9C71.5 695.9 72.9 695.9 74.2 695.9C75.5 695.9 76.9 695.9 78.2 695.9C79.5 695.9 80.8 695.9 82.2 696.0C83.5 696.1 84.8 696.2 86.2 696.3C87.5 696.5 88.8 696.7 90.2 697.0C91.5 697.2 92.8 697.5 94.2 697.9C95.5 698.2 96.8 698.6 98.2 699.0C99.5 699.3 100.8 699.8 102.1 700.2C103.5 700.7 104.8 701.2 106.1 701.7C107.5 702.2 108.8 702.8 110.1 703.4C111.5 704.0 112.8 704.6 114.1 705.3C115.5 706.0 116.8 706.7 118.1 707.4C119.5 708.2 120.8 709.0 122.1 709.8C123.4 710.6 124.8 711.4 126.1 712.2C127.4 713.0 128.8 713.9 130.1 714.7C131.4 715.6 132.8 716.4 134.1 717.3C135.4 718.2 136.8 719.1 138.1 720.0C139.4 720.9 140.8 721.8 142.1 722.8C143.4 723.7 144.8 724.6 146.1 725.6C147.4 726.6 148.7 727.6 150.1 728.5C151.4 729.5 152.7 730.5 154.1 731.6C155.4 732.6 156.7 733.6 158.1 734.6C159.4 735.6 160.7 736.7 162.1 737.7C163.4 738.7 164.7 739.8 166.1 740.8C167.4 741.8 168.7 742.8 170.0 743.9C171.4 744.9 172.7 745.9 174.0 746.9C175.4 747.9 176.7 748.9 178.0 749.9C179.4 750.9 180.7 751.9 182.0 752.8C183.4 753.8 184.7 754.7 186.0 755.7C187.4 756.6 188.7 757.5 190.0 758.4C191.4 759.3 192.7 760.2 194.0 761.0C195.3 761.9 196.7 762.7 198.0 763.5C199.3 764.3 200.7 765.1 202.0 765.8C203.3 766.6 204.7 767.3 206.0 768.0C207.3 768.7 208.7 769.4 210.0 770.0C211.3 770.7 212.7 771.3 214.0 771.9C215.3 772.5 216.6 773.1 218.0 773.6C219.3 774.2 220.6 774.8 222.0 775.3C223.3 775.8 224.6 776.4 226.0 776.9C227.3 777.4 228.6 777.9 230.0 778.4C231.3 778.9 232.6 779.3 234.0 779.8C235.3 780.3 236.6 780.8 237.9 781.2C239.3 781.7 240.6 782.2 241.9 782.6C243.3 783.1 244.6 783.5 245.9 784.0C247.3 784.4 248.6 784.9 249.9 785.3C251.3 785.8 252.6 786.2 253.9 786.6C255.3 787.1 256.6 787.5 257.9 787.9C259.3 788.4 260.6 788.8 261.9 789.2C263.2 789.6 264.6 790.1 265.9 790.5C267.2 790.9 268.6 791.3 269.9 791.7C271.2 792.1 272.6 792.5 273.9 792.9C275.2 793.3 276.6 793.7 277.9 794.1C279.2 794.5 280.6 794.9 281.9 795.3C283.2 795.7 284.5 796.1 285.9 796.5C287.2 796.8 288.5 797.2 289.9 797.6C291.2 798.0 292.5 798.4 293.9 798.7C295.2 799.1 296.5 799.5 297.9 799.8C299.2 800.2 300.5 800.6 301.9 800.9C303.2 801.3 304.5 801.6 305.8 802.0C307.2 802.4 308.5 802.7 309.8 803.1C311.2 803.4 312.5 803.8 313.8 804.1C315.2 804.4 316.5 804.8 317.8 805.1C319.2 805.5 320.5 805.8 321.8 806.1C323.2 806.5 324.5 806.8 325.8 807.1C327.2 807.5 328.5 807.8 329.8 808.1C331.1 808.5 332.5 808.8 333.8 809.1C335.1 809.4 336.5 809.8 337.8 810.1C339.1 810.4 340.5 810.7 341.8 811.1C343.1 811.4 344.5 811.7 345.8 812.0C347.1 812.4 348.5 812.7 349.8 813.0C351.1 813.3 352.4 813.7 353.8 814.0C355.1 814.3 356.4 814.7 357.8 815.0C359.1 815.4 360.4 815.7 361.8 816.1C363.1 816.4 364.4 816.8 365.8 817.1C367.1 817.5 368.4 817.8 369.8 818.2C371.1 818.6 372.4 818.9 373.7 819.3C375.1 819.7 376.4 820.1 377.7 820.5C379.1 820.9 380.4 821.3 381.7 821.7C383.1 822.1 384.4 822.5 385.7 822.9C387.1 823.4 388.4 823.8 389.7 824.2C391.1 824.7 392.4 825.1 393.7 825.6C395.1 826.0 396.4 826.5 397.7 827.0C399.0 827.5 400.4 828.0 401.7 828.5C403.0 829.0 404.4 829.5 405.7 830.0C407.0 830.5 408.4 831.1 409.7 831.6C411.0 832.2 412.4 832.8 413.7 833.3C415.0 833.9 416.4 834.5 417.7 835.1C419.0 835.7 420.3 836.3 421.7 836.9C423.0 837.5 424.3 838.2 425.7 838.8C427.0 839.5 428.3 840.2 429.7 840.8C431.0 841.5 432.3 842.2 433.7 842.9C435.0 843.6 436.3 844.3 437.7 845.1C439.0 845.8 440.3 846.6 441.7 847.3C443.0 848.1 444.3 848.9 445.6 849.7C447.0 850.4 448.3 851.3 449.6 852.1C451.0 852.9 452.3 853.7 453.6 854.6C455.0 855.4 456.3 856.3 457.6 857.2C459.0 858.1 460.3 859.0 461.6 859.9C463.0 860.8 464.3 861.8 465.6 862.7C466.9 863.7 468.3 864.6 469.6 865.6C470.9 866.6 472.3 867.6 473.6 868.6C474.9 869.6 476.3 870.7 477.6 871.7C478.9 872.8 480.3 873.9 481.6 874.9C482.9 876.0 484.3 877.1 485.6 878.3C486.9 879.4 488.2 880.5 489.6 881.6C490.9 882.8 492.2 883.9 493.6 885.1C494.9 886.3 496.2 887.4 497.6 888.6C498.9 889.8 500.2 891.0 501.6 892.2C502.9 893.4 504.2 894.6 505.6 895.9C506.9 897.1 508.2 898.3 509.6 899.5C510.9 900.8 512.2 902.0 513.5 903.3C514.9 904.5 516.2 905.8 517.5 907.0C518.9 908.3 520.2 909.5 521.5 910.8C522.9 912.0 524.2 913.3 525.5 914.5C526.9 915.8 528.2 917.0 529.5 918.3C530.9 919.6 532.2 920.8 533.5 922.1C534.8 923.3 536.2 924.6 537.5 925.8C538.8 927.1 540.2 928.3 541.5 929.5C542.8 930.8 544.2 932.0 545.5 933.2C546.8 934.5 548.2 935.7 549.5 936.9C550.8 938.1 552.2 939.3 553.5 940.5C554.8 941.7 556.1 942.9 557.5 944.1C558.8 945.3 560.1 946.5 561.5 947.7C562.8 948.8 564.1 950.0 565.5 951.2C566.8 952.4 568.1 953.5 569.5 954.7C570.8 955.8 572.1 957.0 573.5 958.1C574.8 959.3 576.1 960.4 577.5 961.6C578.8 962.7 580.1 963.8 581.4 964.9C582.8 966.1 584.1 967.2 585.4 968.3C586.8 969.4 588.1 970.5 589.4 971.6C590.8 972.6 592.1 973.7 593.4 974.7C594.8 975.7 596.1 976.8 597.4 977.7C598.8 978.7 600.1 979.7 601.4 980.6C602.7 981.6 604.1 982.5 605.4 983.3C606.7 984.2 608.1 985.1 609.4 985.9C610.7 986.7 612.1 987.4 613.4 988.2C614.7 988.9 616.1 989.6 617.4 990.2C618.7 990.9 620.1 991.5 621.4 992.0C622.7 992.6 624.1 993.1 625.4 993.6C626.7 994.1 628.0 994.6 629.4 995.0C630.7 995.4 632.0 995.8 633.4 996.1C634.7 996.5 636.0 996.8 637.4 997.1C638.7 997.4 640.0 997.7 641.4 998.0C642.7 998.3 644.0 998.5 645.4 998.8C646.7 999.0 648.0 999.2 649.3 999.4C650.7 999.6 652.0 999.8 653.3 999.9C654.7 1000.1 656.0 1000.3 657.3 1000.4C658.7 1000.6 660.0 1000.7 661.3 1000.8C662.7 1000.9 664.0 1001.0 665.3 1001.1C666.7 1001.2 668.0 1001.3 669.3 1001.4C670.6 1001.5 672.0 1001.6 673.3 1001.6C674.6 1001.7 676.0 1001.7 677.3 1001.8C678.6 1001.8 680.6 1001.9 681.3 1001.9" fill="none" stroke="#00b050" stroke-width="3.3" stroke-linecap="round" stroke-linejoin="round"/>
<text x="48.2" y="1009.1" text-anchor="end" class="t20">0</text>
<text x="48.2" y="966.4" text-anchor="end" class="t20">2</text>
<text x="48.2" y="923.7" text-anchor="end" class="t20">4</text>
<text x="48.2" y="881.0" text-anchor="end" class="t20">6</text>
<text x="48.2" y="838.3" text-anchor="end" class="t20">8</text>
<text x="48.2" y="795.5" text-anchor="end" class="t20">10</text>
<text x="48.2" y="752.8" text-anchor="end" class="t20">12</text>
<text x="48.2" y="710.1" text-anchor="end" class="t20">14</text>
<text x="48.2" y="667.4" text-anchor="end" class="t20">16</text>
<text x="48.2" y="624.7" text-anchor="end" class="t20">18</text>
<text x="48.2" y="582.0" text-anchor="end" class="t20">20</text>
<text x="65.7" y="1033.0" text-anchor="middle" class="t20">100000</text>
<text x="188.8" y="1033.0" text-anchor="middle" class="t20">10000</text>
<text x="311.9" y="1033.0" text-anchor="middle" class="t20">1000</text>
<text x="435.0" y="1033.0" text-anchor="middle" class="t20">100</text>
<text x="558.1" y="1033.0" text-anchor="middle" class="t20">10</text>
<text x="681.2" y="1033.0" text-anchor="middle" class="t20">1</text>
<text x="277.0" y="620.0" class="t24">b) 90-days</text>
<text x="335.2" y="1067.0" text-anchor="middle" style="font-size:20.3px">Pore Diameter, nm</text>
<text transform="translate(18.7 788.0) rotate(-90) scale(1.022 1.07)" text-anchor="middle" class="t20">Cumulative Porosity, %</text>
<rect x="493.0" y="585.7" width="180.7" height="166.3" fill="none" stroke="#000" stroke-width="2"/>
<path d="M525.0 600.1H563.6" stroke="#ff0000" stroke-width="2.1" stroke-linecap="round"/>
<text x="567.5" y="606.7" style="font-size:20px">0%-nSi</text>
<path d="M525.0 627.7H563.6" stroke="#7030a0" stroke-width="3.3" stroke-linecap="round"/>
<text x="567.5" y="634.3" style="font-size:20px">1%-nSi</text>
<path d="M525.0 655.3H563.6" stroke="#00b0f0" stroke-width="3.3" stroke-linecap="round"/>
<text x="567.5" y="661.9" style="font-size:20px">2.5%-nSi</text>
<path d="M525.0 682.8H563.6" stroke="#000000" stroke-width="3.3" stroke-linecap="round"/>
<text x="567.5" y="689.4" style="font-size:20px">5%-nSi</text>
<path d="M525.0 710.4H563.6" stroke="#843c0c" stroke-width="3.3" stroke-linecap="round"/>
<text x="567.5" y="717.0" style="font-size:20px">7.5%-nSi</text>
<path d="M525.0 738.0H563.6" stroke="#00b050" stroke-width="3.3" stroke-linecap="round"/>
<text x="567.5" y="744.6" style="font-size:20px">OPC</text>
</g>
</svg>
</body></html>
